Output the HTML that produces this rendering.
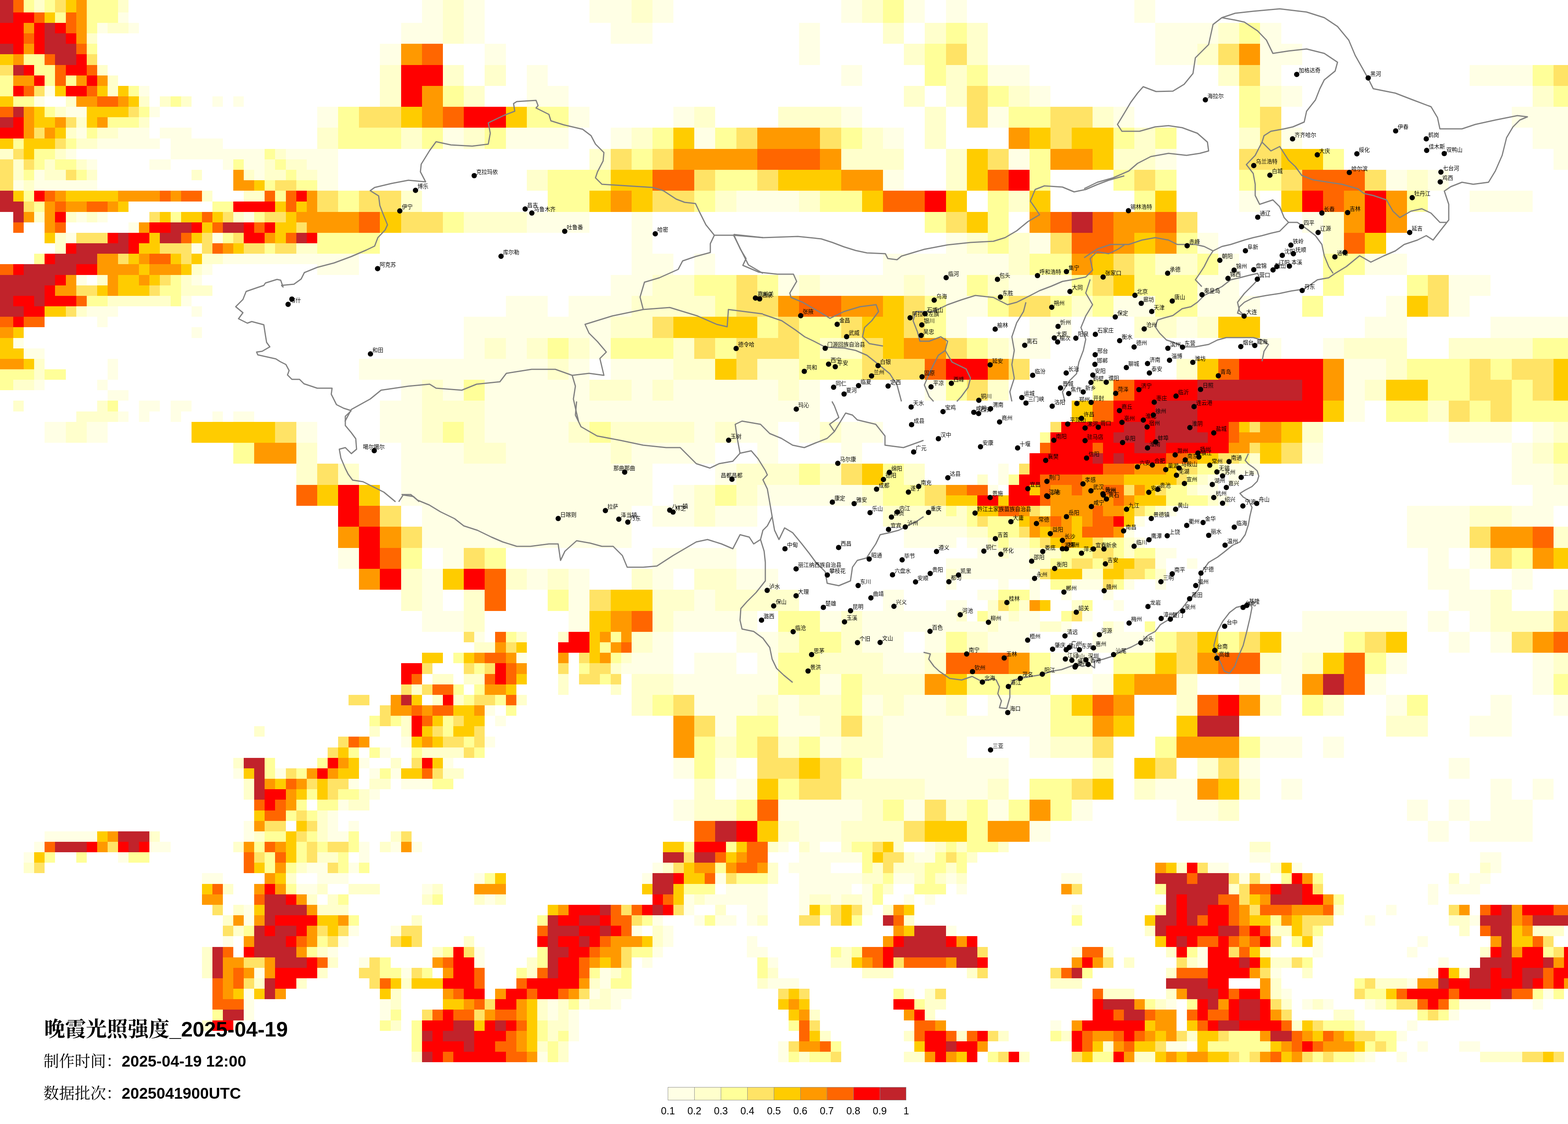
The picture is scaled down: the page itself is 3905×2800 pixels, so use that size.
<!DOCTYPE html>
<html><head><meta charset="utf-8"><title>晚霞光照强度_2025-04-19</title>
<style>
html,body{margin:0;padding:0;background:#fff}
body{width:3905px;height:2800px;position:relative;overflow:hidden}
svg{position:absolute;left:0;top:0}
.cl{font-family:"Noto Sans CJK SC",sans-serif;font-size:13.5px;fill:#000}
.cb{font-family:"Liberation Sans","Noto Sans CJK SC",sans-serif;font-size:25px;fill:#000}
.t1{position:absolute;left:110px;top:2530px;font-size:52px;line-height:60px;white-space:nowrap;color:#000}
.t1 .c{font-family:"Noto Serif CJK SC",serif;font-weight:700}
.t1 .d{font-family:"Liberation Sans",sans-serif;font-weight:700}
.t2{position:absolute;left:108px;font-size:39px;line-height:46px;white-space:nowrap;color:#000}
.t2 .c{font-family:"Noto Serif CJK SC",serif;font-weight:400}
.t2 .d{font-family:"Liberation Sans",sans-serif;font-weight:700}
</style></head><body>
<svg width="3905" height="2800" viewBox="0 0 3905 2800" xmlns="http://www.w3.org/2000/svg">
<g shape-rendering="crispEdges">
<path fill="#FFFFE5" d="M1051 0h52v31h-52zM1155 0h52v31h-52zM1468 0h105v31h-105zM1625 0h52v31h-52zM2095 0h52v31h-52zM2251 0h52v31h-52zM2356 0h52v31h-52zM2825 0h52v31h-52zM294 31h26v26h-26zM1051 31h52v26h-52zM1155 31h52v26h-52zM1468 31h105v26h-105zM1625 31h52v26h-52zM2095 31h52v26h-52zM2251 31h52v26h-52zM2356 31h52v26h-52zM2825 31h52v26h-52zM242 57h26v26h-26zM320 57h26v26h-26zM999 57h104v26h-104zM1155 57h52v26h-52zM1521 57h104v26h-104zM1990 57h52v26h-52zM2877 57h157v26h-157zM3138 57h53v26h-53zM999 83h104v26h-104zM1155 83h52v26h-52zM1521 83h104v26h-104zM1990 83h52v26h-52zM2877 83h157v26h-157zM3138 83h53v26h-53zM946 109h53v26h-53zM1207 109h53v26h-53zM1990 109h52v26h-52zM2877 109h105v26h-105zM3138 109h105v26h-105zM946 135h53v27h-53zM1207 135h53v27h-53zM1990 135h52v27h-52zM2877 135h105v27h-105zM3138 135h105v27h-105zM1312 162h52v26h-52zM2095 162h52v26h-52zM2460 162h104v26h-104zM3138 162h53v26h-53zM3660 162h157v26h-157zM1312 188h52v26h-52zM2095 188h52v26h-52zM2460 188h104v26h-104zM3138 188h53v26h-53zM3660 188h157v26h-157zM111 214h26v26h-26zM346 214h26v26h-26zM1312 214h104v26h-104zM2564 214h52v26h-52zM3191 214h52v26h-52zM85 240h26v26h-26zM529 240h26v26h-26zM581 240h26v26h-26zM1312 240h104v26h-104zM2564 240h52v26h-52zM3191 240h52v26h-52zM164 266h52v26h-52zM372 266h26v26h-26zM790 266h52v26h-52zM1416 266h52v26h-52zM1677 266h52v26h-52zM2095 266h52v26h-52zM2460 266h52v26h-52zM2773 266h52v26h-52zM3765 266h140v26h-140zM790 292h52v26h-52zM1416 292h52v26h-52zM1677 292h52v26h-52zM2095 292h52v26h-52zM2460 292h52v26h-52zM2773 292h52v26h-52zM3765 292h140v26h-140zM190 318h26v27h-26zM294 318h78v27h-78zM398 318h79v27h-79zM1103 318h52v27h-52zM1260 318h156v27h-156zM1521 318h52v27h-52zM1729 318h52v27h-52zM2199 318h52v27h-52zM3191 318h52v27h-52zM3817 318h88v27h-88zM242 345h156v26h-156zM425 345h130v26h-130zM1103 345h52v26h-52zM1260 345h156v26h-156zM1521 345h52v26h-52zM1729 345h52v26h-52zM2199 345h52v26h-52zM3191 345h52v26h-52zM3817 345h88v26h-88zM164 371h26v26h-26zM425 371h234v26h-234zM712 371h130v26h-130zM2512 371h52v26h-52zM2877 371h53v26h-53zM3869 371h36v26h-36zM216 397h26v26h-26zM372 397h53v26h-53zM555 397h26v26h-26zM607 397h52v26h-52zM764 397h78v26h-78zM2512 397h52v26h-52zM2877 397h53v26h-53zM3869 397h36v26h-36zM85 423h26v26h-26zM633 423h26v26h-26zM790 423h52v26h-52zM2199 423h52v26h-52zM3452 423h52v26h-52zM3556 423h52v26h-52zM33 449h26v26h-26zM85 449h157v26h-157zM790 449h52v26h-52zM2199 449h52v26h-52zM3452 449h52v26h-52zM3556 449h52v26h-52zM1834 475h156v27h-156zM3086 475h52v27h-52zM3660 475h157v27h-157zM1834 502h156v26h-156zM3086 502h52v26h-52zM3660 502h157v26h-157zM190 528h26v26h-26zM242 528h26v26h-26zM607 528h26v26h-26zM1312 528h156v26h-156zM1573 528h52v26h-52zM3243 528h52v26h-52zM320 554h26v26h-26zM1312 554h156v26h-156zM1573 554h52v26h-52zM3243 554h52v26h-52zM164 580h26v26h-26zM529 580h26v26h-26zM1573 580h52v26h-52zM2356 580h52v26h-52zM2564 580h52v26h-52zM2982 580h52v26h-52zM477 606h26v26h-26zM1573 606h52v26h-52zM2356 606h52v26h-52zM2564 606h52v26h-52zM2982 606h52v26h-52zM555 632h339v26h-339zM1573 632h104v26h-104zM1729 632h52v26h-52zM2199 632h313v26h-313zM3034 632h52v26h-52zM3399 632h105v26h-105zM503 658h26v27h-26zM790 658h104v27h-104zM1573 658h104v27h-104zM1729 658h52v27h-52zM2199 658h313v27h-313zM3034 658h52v27h-52zM3399 658h105v27h-105zM190 685h26v26h-26zM477 685h26v26h-26zM1521 685h104v26h-104zM1938 685h52v26h-52zM2042 685h209v26h-209zM2303 685h105v26h-105zM2512 685h157v26h-157zM2982 685h104v26h-104zM3608 685h104v26h-104zM1521 711h104v26h-104zM1938 711h52v26h-52zM2042 711h209v26h-209zM2303 711h105v26h-105zM2512 711h157v26h-157zM2982 711h104v26h-104zM3608 711h104v26h-104zM451 737h26v26h-26zM1260 737h104v26h-104zM1416 737h157v26h-157zM2356 737h104v26h-104zM2773 737h104v26h-104zM2982 737h156v26h-156zM3452 737h52v26h-52zM3608 737h52v26h-52zM216 763h78v26h-78zM477 763h26v26h-26zM1260 763h104v26h-104zM1416 763h157v26h-157zM2356 763h104v26h-104zM2773 763h104v26h-104zM2982 763h156v26h-156zM3452 763h52v26h-52zM3608 763h52v26h-52zM242 789h26v26h-26zM1155 789h366v26h-366zM2356 789h52v26h-52zM2564 789h105v26h-105zM2930 789h52v26h-52zM3399 789h105v26h-105zM3712 789h193v26h-193zM477 815h26v27h-26zM1155 815h366v27h-366zM2356 815h52v27h-52zM2564 815h105v27h-105zM2930 815h52v27h-52zM3399 815h105v27h-105zM3712 815h193v27h-193zM33 842h26v26h-26zM1155 842h52v26h-52zM1260 842h52v26h-52zM1468 842h53v26h-53zM2512 842h104v26h-104zM3138 842h53v26h-53zM3295 842h52v26h-52zM59 868h52v26h-52zM1155 868h52v26h-52zM1260 868h52v26h-52zM1468 868h53v26h-53zM2512 868h104v26h-104zM3138 868h53v26h-53zM3295 868h52v26h-52zM268 894h26v26h-26zM894 894h470v26h-470zM1416 894h52v26h-52zM1521 894h156v26h-156zM3347 894h105v26h-105zM268 920h26v26h-26zM894 920h470v26h-470zM1416 920h52v26h-52zM1521 920h156v26h-156zM3347 920h105v26h-105zM85 946h26v26h-26zM242 946h26v26h-26zM999 946h52v26h-52zM1103 946h52v26h-52zM1207 946h261v26h-261zM1573 946h52v26h-52zM1677 946h261v26h-261zM1990 946h52v26h-52zM2303 946h53v26h-53zM3347 946h52v26h-52zM268 972h52v26h-52zM999 972h52v26h-52zM1103 972h52v26h-52zM1207 972h261v26h-261zM1573 972h52v26h-52zM1677 972h261v26h-261zM1990 972h52v26h-52zM2303 972h53v26h-53zM3347 972h52v26h-52zM346 998h52v27h-52zM425 998h52v27h-52zM946 998h105v27h-105zM1207 998h835v27h-835zM3347 998h52v27h-52zM294 1025h26v26h-26zM346 1025h26v26h-26zM425 1025h26v26h-26zM529 1025h26v26h-26zM581 1025h52v26h-52zM946 1025h105v26h-105zM1207 1025h835v26h-835zM3347 1025h52v26h-52zM111 1051h53v26h-53zM216 1051h52v26h-52zM738 1051h52v26h-52zM946 1051h105v26h-105zM1207 1051h209v26h-209zM1729 1051h52v26h-52zM1834 1051h104v26h-104zM1990 1051h52v26h-52zM2095 1051h104v26h-104zM3608 1051h157v26h-157zM3817 1051h52v26h-52zM111 1077h53v26h-53zM216 1077h52v26h-52zM738 1077h52v26h-52zM946 1077h105v26h-105zM1207 1077h209v26h-209zM1729 1077h52v26h-52zM1834 1077h104v26h-104zM1990 1077h52v26h-52zM2095 1077h104v26h-104zM3608 1077h157v26h-157zM3817 1077h52v26h-52zM999 1103h156v26h-156zM1260 1103h261v26h-261zM1573 1103h208v26h-208zM1886 1103h52v26h-52zM2095 1103h52v26h-52zM3243 1103h52v26h-52zM3765 1103h52v26h-52zM999 1129h156v26h-156zM1260 1129h261v26h-261zM1573 1129h208v26h-208zM1886 1129h52v26h-52zM2095 1129h52v26h-52zM3243 1129h52v26h-52zM3765 1129h52v26h-52zM999 1155h626v27h-626zM1781 1155h53v27h-53zM2486 1155h26v27h-26zM3060 1155h78v27h-78zM3765 1155h104v27h-104zM999 1182h626v26h-626zM1781 1182h53v26h-53zM2486 1182h26v26h-26zM3008 1182h26v26h-26zM3060 1182h26v26h-26zM3765 1182h104v26h-104zM999 1208h626v26h-626zM1677 1208h52v26h-52zM1886 1208h261v26h-261zM2460 1208h26v26h-26zM2982 1208h52v26h-52zM3817 1208h88v26h-88zM999 1234h626v26h-626zM1677 1234h52v26h-52zM1886 1234h261v26h-261zM3034 1234h26v26h-26zM3817 1234h88v26h-88zM1051 1260h522v26h-522zM1625 1260h104v26h-104zM1781 1260h105v26h-105zM2904 1260h26v26h-26zM3504 1260h156v26h-156zM3765 1260h104v26h-104zM1051 1286h522v26h-522zM1625 1286h104v26h-104zM1781 1286h105v26h-105zM2825 1286h26v26h-26zM3504 1286h156v26h-156zM3765 1286h104v26h-104zM1051 1312h522v27h-522zM2251 1312h157v27h-157zM2799 1312h26v27h-26zM3504 1312h156v27h-156zM1051 1339h522v26h-522zM2251 1339h131v26h-131zM2408 1339h52v26h-52zM2825 1339h26v26h-26zM3504 1339h156v26h-156zM842 1365h52v26h-52zM1103 1365h52v26h-52zM1625 1365h209v26h-209zM2434 1365h52v26h-52zM2512 1365h52v26h-52zM2877 1365h53v26h-53zM3556 1365h52v26h-52zM3660 1365h52v26h-52zM842 1391h52v26h-52zM1103 1391h52v26h-52zM1625 1391h209v26h-209zM2356 1391h208v26h-208zM2877 1391h27v26h-27zM2956 1391h26v26h-26zM3556 1391h52v26h-52zM3660 1391h52v26h-52zM1051 1417h52v26h-52zM1312 1417h52v26h-52zM1416 1417h52v26h-52zM1625 1417h52v26h-52zM1834 1417h104v26h-104zM2382 1417h208v26h-208zM3556 1417h104v26h-104zM3765 1417h52v26h-52zM1051 1443h52v26h-52zM1312 1443h52v26h-52zM1416 1443h52v26h-52zM1625 1443h52v26h-52zM1834 1443h104v26h-104zM2356 1443h26v26h-26zM2486 1443h26v26h-26zM2564 1443h26v26h-26zM2669 1443h78v26h-78zM2799 1443h26v26h-26zM2877 1443h27v26h-27zM3556 1443h104v26h-104zM3765 1443h52v26h-52zM1051 1469h52v26h-52zM1416 1469h52v26h-52zM1729 1469h52v26h-52zM2199 1469h52v26h-52zM2434 1469h52v26h-52zM2564 1469h26v26h-26zM2643 1469h26v26h-26zM2747 1469h26v26h-26zM3608 1469h104v26h-104zM1051 1495h52v27h-52zM1416 1495h52v27h-52zM1729 1495h52v27h-52zM2199 1495h52v27h-52zM2356 1495h52v27h-52zM2773 1495h26v27h-26zM3608 1495h104v27h-104zM1051 1522h104v26h-104zM1416 1522h52v26h-52zM1677 1522h209v26h-209zM2042 1522h53v26h-53zM2147 1522h235v26h-235zM2486 1522h26v26h-26zM2538 1522h52v26h-52zM2695 1522h26v26h-26zM3243 1522h261v26h-261zM3556 1522h52v26h-52zM3660 1522h52v26h-52zM1051 1548h104v26h-104zM1416 1548h52v26h-52zM1677 1548h209v26h-209zM2042 1548h53v26h-53zM2147 1548h313v26h-313zM2486 1548h104v26h-104zM2643 1548h26v26h-26zM2773 1548h26v26h-26zM3243 1548h261v26h-261zM3556 1548h52v26h-52zM3660 1548h52v26h-52zM1181 1574h26v26h-26zM1625 1574h52v26h-52zM1834 1574h104v26h-104zM2147 1574h104v26h-104zM2303 1574h53v26h-53zM2460 1574h104v26h-104zM2721 1574h156v26h-156zM3191 1574h156v26h-156zM3608 1574h52v26h-52zM3712 1574h53v26h-53zM1625 1600h52v26h-52zM1834 1600h104v26h-104zM2147 1600h104v26h-104zM2303 1600h53v26h-53zM2460 1600h104v26h-104zM2721 1600h156v26h-156zM3191 1600h156v26h-156zM3608 1600h52v26h-52zM3712 1600h53v26h-53zM1286 1626h26v26h-26zM1573 1626h104v26h-104zM1729 1626h105v26h-105zM1886 1626h52v26h-52zM2199 1626h104v26h-104zM2616 1626h105v26h-105zM3191 1626h52v26h-52zM3452 1626h52v26h-52zM3817 1626h52v26h-52zM1547 1652h130v27h-130zM1729 1652h105v27h-105zM1886 1652h52v27h-52zM2199 1652h104v27h-104zM2616 1652h105v27h-105zM3191 1652h52v27h-52zM3452 1652h52v27h-52zM3817 1652h52v27h-52zM1677 1679h261v26h-261zM2042 1679h53v26h-53zM2721 1679h52v26h-52zM3086 1679h52v26h-52zM3191 1679h52v26h-52zM3399 1679h53v26h-53zM3817 1679h52v26h-52zM1677 1705h261v26h-261zM2042 1705h53v26h-53zM2721 1705h52v26h-52zM3086 1705h52v26h-52zM3191 1705h52v26h-52zM3399 1705h53v26h-53zM3817 1705h52v26h-52zM1729 1731h157v26h-157zM1938 1731h52v26h-52zM2147 1731h52v26h-52zM2251 1731h105v26h-105zM2460 1731h156v26h-156zM3452 1731h52v26h-52zM3712 1731h53v26h-53zM3869 1731h36v26h-36zM1207 1757h26v26h-26zM1729 1757h157v26h-157zM1938 1757h52v26h-52zM2147 1757h52v26h-52zM2251 1757h105v26h-105zM2460 1757h156v26h-156zM3452 1757h52v26h-52zM3712 1757h53v26h-53zM3869 1757h36v26h-36zM1233 1783h27v26h-27zM1781 1783h53v26h-53zM1938 1783h104v26h-104zM2199 1783h417v26h-417zM3660 1783h105v26h-105zM1781 1809h53v26h-53zM1938 1809h104v26h-104zM2199 1809h417v26h-417zM3660 1809h105v26h-105zM999 1835h26v27h-26zM1207 1835h26v27h-26zM2042 1835h53v27h-53zM2199 1835h209v27h-209zM2564 1835h52v27h-52zM3138 1835h105v27h-105zM3295 1835h52v27h-52zM946 1862h27v26h-27zM2042 1862h53v26h-53zM2199 1862h209v26h-209zM2564 1862h52v26h-52zM3138 1862h105v26h-105zM3295 1862h52v26h-52zM894 1888h26v26h-26zM1103 1888h26v26h-26zM1677 1888h52v26h-52zM1781 1888h53v26h-53zM2147 1888h365v26h-365zM3086 1888h52v26h-52zM3608 1888h52v26h-52zM581 1914h26v26h-26zM685 1914h27v26h-27zM920 1914h26v26h-26zM973 1914h26v26h-26zM1677 1914h52v26h-52zM1781 1914h53v26h-53zM2147 1914h365v26h-365zM3086 1914h52v26h-52zM3608 1914h52v26h-52zM868 1940h26v26h-26zM999 1940h78v26h-78zM1834 1940h52v26h-52zM2303 1940h157v26h-157zM2877 1940h105v26h-105zM3191 1940h52v26h-52zM3712 1940h53v26h-53zM3817 1940h52v26h-52zM920 1966h26v26h-26zM1834 1966h52v26h-52zM2303 1966h157v26h-157zM2877 1966h105v26h-105zM3191 1966h52v26h-52zM3712 1966h53v26h-53zM3817 1966h52v26h-52zM842 1992h26v27h-26zM1677 1992h52v27h-52zM1938 1992h209v27h-209zM2251 1992h52v27h-52zM2460 1992h52v27h-52zM2669 1992h52v27h-52zM2930 1992h104v27h-104zM3504 1992h52v27h-52zM3608 1992h52v27h-52zM3712 1992h105v27h-105zM816 2019h26v26h-26zM1677 2019h52v26h-52zM1938 2019h209v26h-209zM2251 2019h52v26h-52zM2460 2019h52v26h-52zM2669 2019h52v26h-52zM2930 2019h104v26h-104zM3504 2019h52v26h-52zM3608 2019h52v26h-52zM3712 2019h105v26h-105zM607 2045h26v26h-26zM816 2045h26v26h-26zM868 2045h26v26h-26zM1990 2045h105v26h-105zM2564 2045h52v26h-52zM3556 2045h52v26h-52zM3660 2045h157v26h-157zM111 2071h131v26h-131zM607 2071h26v26h-26zM816 2071h52v26h-52zM1990 2071h105v26h-105zM2564 2071h52v26h-52zM3556 2071h52v26h-52zM3660 2071h157v26h-157zM85 2097h26v26h-26zM372 2097h53v26h-53zM894 2097h26v26h-26zM973 2097h26v26h-26zM1025 2097h26v26h-26zM1938 2097h26v26h-26zM2016 2097h26v26h-26zM2303 2097h26v26h-26zM59 2123h26v26h-26zM294 2123h26v26h-26zM894 2123h26v26h-26zM1990 2123h157v26h-157zM2277 2123h52v26h-52zM3112 2123h52v26h-52zM3686 2123h53v26h-53zM764 2149h52v26h-52zM868 2149h26v26h-26zM1625 2149h26v26h-26zM1964 2149h105v26h-105zM3008 2149h52v26h-52zM3217 2149h26v26h-26zM3712 2149h27v26h-27zM503 2175h52v27h-52zM790 2175h78v27h-78zM1181 2175h26v27h-26zM1599 2175h26v27h-26zM1781 2175h27v27h-27zM1990 2175h157v27h-157zM2225 2175h52v27h-52zM2356 2175h26v27h-26zM2643 2175h52v27h-52zM3086 2175h26v27h-26zM3138 2175h26v27h-26zM3660 2175h52v27h-52zM738 2202h52v26h-52zM1051 2202h26v26h-26zM1808 2202h104v26h-104zM1990 2202h131v26h-131zM2147 2202h26v26h-26zM2382 2202h26v26h-26zM3556 2202h26v26h-26zM3608 2202h78v26h-78zM1207 2228h26v26h-26zM1703 2228h26v26h-26zM1755 2228h157v26h-157zM1990 2228h26v26h-26zM2069 2228h26v26h-26zM2147 2228h26v26h-26zM2251 2228h26v26h-26zM2303 2228h26v26h-26zM3556 2228h26v26h-26zM607 2254h26v26h-26zM1703 2254h26v26h-26zM1860 2254h52v26h-52zM1990 2254h26v26h-26zM2147 2254h26v26h-26zM2669 2254h26v26h-26zM3452 2254h26v26h-26zM607 2280h26v26h-26zM1625 2280h26v26h-26zM1729 2280h26v26h-26zM1781 2280h53v26h-53zM1860 2280h26v26h-26zM3399 2280h26v26h-26zM3660 2280h26v26h-26zM868 2306h26v26h-26zM973 2306h26v26h-26zM1573 2306h26v26h-26zM1651 2306h26v26h-26zM2356 2306h26v26h-26zM555 2332h26v27h-26zM842 2332h26v27h-26zM1651 2332h26v27h-26zM1860 2332h26v27h-26zM3269 2332h26v27h-26zM3530 2332h26v27h-26zM816 2359h26v26h-26zM1181 2359h26v26h-26zM1625 2359h26v26h-26zM1860 2359h52v26h-52zM2669 2359h26v26h-26zM2982 2359h26v26h-26zM3269 2359h26v26h-26zM3504 2359h26v26h-26zM894 2385h26v26h-26zM1181 2385h26v26h-26zM1599 2385h26v26h-26zM1912 2385h26v26h-26zM2982 2385h26v26h-26zM3582 2385h26v26h-26zM633 2411h26v26h-26zM999 2411h26v26h-26zM1494 2411h27v26h-27zM3164 2411h27v26h-27zM3556 2411h26v26h-26zM1494 2437h27v26h-27zM1912 2437h78v26h-78zM3504 2437h26v26h-26zM607 2463h26v26h-26zM1468 2463h26v26h-26zM1521 2463h52v26h-52zM2251 2463h26v26h-26zM3191 2463h26v26h-26zM3843 2463h26v26h-26zM607 2489h26v26h-26zM946 2489h27v26h-27zM1364 2489h26v26h-26zM1442 2489h26v26h-26zM1521 2489h26v26h-26zM2904 2489h26v26h-26zM3243 2489h26v26h-26zM3295 2489h26v26h-26zM3399 2489h26v26h-26zM3634 2489h78v26h-78zM3817 2489h26v26h-26zM607 2515h26v27h-26zM946 2515h27v27h-27zM1364 2515h26v27h-26zM1416 2515h26v27h-26zM3608 2515h26v27h-26zM581 2542h26v26h-26zM1416 2542h26v26h-26zM2616 2542h27v26h-27zM3504 2542h26v26h-26zM1416 2568h26v26h-26zM3478 2568h26v26h-26zM1938 2594h26v26h-26zM2904 2594h52v26h-52zM3530 2594h26v26h-26zM3634 2594h52v26h-52zM1338 2620h26v26h-26zM1938 2620h26v26h-26zM3399 2620h26v26h-26zM3478 2620h26v26h-26z"/>
<path fill="#FFFFCC" d="M85 0h26v31h-26zM294 0h26v31h-26zM1103 0h52v31h-52zM1573 0h52v31h-52zM2147 0h52v31h-52zM1103 31h52v26h-52zM1573 31h52v26h-52zM2147 31h52v26h-52zM268 57h52v26h-52zM1103 57h52v26h-52zM2199 57h52v26h-52zM2303 57h53v26h-53zM2408 57h52v26h-52zM3034 57h52v26h-52zM216 83h26v26h-26zM1103 83h52v26h-52zM2199 83h52v26h-52zM2303 83h53v26h-53zM2408 83h52v26h-52zM3034 83h52v26h-52zM2251 109h52v26h-52zM2408 109h52v26h-52zM2982 109h52v26h-52zM2251 135h52v27h-52zM2408 135h52v27h-52zM2982 135h52v27h-52zM242 162h26v26h-26zM946 162h53v26h-53zM1103 162h52v26h-52zM1207 162h53v26h-53zM2356 162h52v26h-52zM3034 162h52v26h-52zM268 188h26v26h-26zM946 188h53v26h-53zM1103 188h52v26h-52zM1207 188h53v26h-53zM2356 188h52v26h-52zM3034 188h52v26h-52zM268 214h26v26h-26zM946 214h53v26h-53zM1155 214h52v26h-52zM2251 214h52v26h-52zM2356 214h52v26h-52zM2512 214h52v26h-52zM3138 214h53v26h-53zM3817 214h52v26h-52zM164 240h26v26h-26zM346 240h26v26h-26zM398 240h27v26h-27zM451 240h26v26h-26zM946 240h53v26h-53zM1155 240h52v26h-52zM2251 240h52v26h-52zM2356 240h52v26h-52zM2512 240h52v26h-52zM3138 240h53v26h-53zM3817 240h52v26h-52zM137 266h27v26h-27zM1729 266h52v26h-52zM1938 266h157v26h-157zM2303 266h53v26h-53zM2721 266h52v26h-52zM190 292h26v26h-26zM346 292h26v26h-26zM1729 292h52v26h-52zM1938 292h157v26h-157zM2303 292h53v26h-53zM2721 292h52v26h-52zM164 318h26v27h-26zM242 318h52v27h-52zM790 318h52v27h-52zM999 318h52v27h-52zM1155 318h52v27h-52zM1573 318h52v27h-52zM2147 318h52v27h-52zM2303 318h53v27h-53zM2825 318h52v27h-52zM3086 318h52v27h-52zM190 345h52v26h-52zM790 345h52v26h-52zM999 345h52v26h-52zM1155 345h52v26h-52zM1573 345h52v26h-52zM2147 345h52v26h-52zM2303 345h53v26h-53zM2825 345h52v26h-52zM3086 345h52v26h-52zM0 371h33v26h-33zM137 371h27v26h-27zM685 371h27v26h-27zM1468 371h53v26h-53zM2095 371h156v26h-156zM2356 371h52v26h-52zM2773 371h104v26h-104zM33 397h26v26h-26zM111 397h26v26h-26zM190 397h26v26h-26zM659 397h26v26h-26zM712 397h52v26h-52zM1468 397h53v26h-53zM2095 397h156v26h-156zM2356 397h52v26h-52zM2773 397h104v26h-104zM33 423h26v26h-26zM111 423h53v26h-53zM216 423h26v26h-26zM477 423h26v26h-26zM607 423h26v26h-26zM659 423h53v26h-53zM738 423h52v26h-52zM1312 423h52v26h-52zM2356 423h52v26h-52zM3504 423h52v26h-52zM59 449h26v26h-26zM1312 449h52v26h-52zM2356 449h52v26h-52zM3504 449h52v26h-52zM503 475h26v27h-26zM607 475h52v27h-52zM999 475h52v27h-52zM1781 475h53v27h-53zM1990 475h52v27h-52zM2512 475h52v27h-52zM999 502h52v26h-52zM1781 502h53v26h-53zM1990 502h52v26h-52zM2512 502h52v26h-52zM85 528h26v26h-26zM164 528h26v26h-26zM216 528h26v26h-26zM581 528h26v26h-26zM1155 528h157v26h-157zM3295 528h52v26h-52zM1155 554h157v26h-157zM3295 554h52v26h-52zM137 580h27v26h-27zM2408 580h52v26h-52zM2512 580h52v26h-52zM3295 580h52v26h-52zM137 606h27v26h-27zM738 606h52v26h-52zM2408 606h52v26h-52zM2512 606h52v26h-52zM3295 606h52v26h-52zM503 632h52v26h-52zM2512 632h52v26h-52zM2877 632h105v26h-105zM477 658h26v27h-26zM2512 658h52v27h-52zM2877 658h105v27h-105zM242 685h26v26h-26zM451 685h26v26h-26zM1625 685h104v26h-104zM1990 685h52v26h-52zM2251 685h52v26h-52zM2460 685h52v26h-52zM451 711h78v26h-78zM1625 711h104v26h-104zM1990 711h52v26h-52zM2251 711h52v26h-52zM2460 711h52v26h-52zM268 737h157v26h-157zM1573 737h208v26h-208zM2669 737h52v26h-52zM190 763h26v26h-26zM1573 763h208v26h-208zM2669 763h52v26h-52zM1521 789h104v26h-104zM2825 789h105v26h-105zM2982 789h52v26h-52zM1521 815h104v27h-104zM2825 815h105v27h-105zM2982 815h52v27h-52zM1207 842h53v26h-53zM1312 842h52v26h-52zM1416 842h52v26h-52zM1677 842h52v26h-52zM2042 842h105v26h-105zM2460 842h52v26h-52zM3347 842h157v26h-157zM3608 842h209v26h-209zM1207 868h53v26h-53zM1312 868h52v26h-52zM1416 868h52v26h-52zM1677 868h52v26h-52zM2042 868h105v26h-105zM2460 868h52v26h-52zM3347 868h157v26h-157zM3608 868h209v26h-209zM85 894h26v26h-26zM1364 894h52v26h-52zM1677 894h104v26h-104zM1886 894h104v26h-104zM2930 894h52v26h-52zM3452 894h52v26h-52zM85 920h26v26h-26zM1364 920h52v26h-52zM1677 920h104v26h-104zM1886 920h104v26h-104zM2930 920h52v26h-52zM3452 920h52v26h-52zM33 946h52v26h-52zM1051 946h52v26h-52zM1468 946h105v26h-105zM1625 946h52v26h-52zM1938 946h52v26h-52zM2460 946h52v26h-52zM3399 946h53v26h-53zM1051 972h52v26h-52zM1468 972h105v26h-105zM1625 972h52v26h-52zM1938 972h52v26h-52zM2460 972h52v26h-52zM3399 972h53v26h-53zM33 998h26v27h-26zM242 998h26v27h-26zM1051 998h156v27h-156zM3556 998h52v27h-52zM190 1025h104v26h-104zM1051 1025h156v26h-156zM3556 1025h52v26h-52zM164 1051h52v26h-52zM1051 1051h52v26h-52zM1155 1051h52v26h-52zM1416 1051h52v26h-52zM1521 1051h208v26h-208zM1781 1051h53v26h-53zM2042 1051h53v26h-53zM3243 1051h52v26h-52zM3869 1051h36v26h-36zM164 1077h52v26h-52zM1051 1077h52v26h-52zM1155 1077h52v26h-52zM1416 1077h52v26h-52zM1521 1077h208v26h-208zM1781 1077h53v26h-53zM2042 1077h53v26h-53zM3243 1077h52v26h-52zM3869 1077h36v26h-36zM738 1103h52v26h-52zM1155 1103h105v26h-105zM1521 1103h52v26h-52zM3817 1103h52v26h-52zM738 1129h52v26h-52zM1155 1129h105v26h-105zM1521 1129h52v26h-52zM3112 1129h26v26h-26zM3817 1129h52v26h-52zM738 1155h52v27h-52zM842 1155h52v27h-52zM1834 1155h156v27h-156zM2042 1155h53v27h-53zM2251 1155h52v27h-52zM3034 1155h26v27h-26zM3869 1155h36v27h-36zM738 1182h52v26h-52zM842 1182h52v26h-52zM1834 1182h156v26h-156zM2042 1182h53v26h-53zM2251 1182h52v26h-52zM2434 1182h26v26h-26zM2982 1182h26v26h-26zM3869 1182h36v26h-36zM1729 1208h52v26h-52zM1834 1208h52v26h-52zM2147 1208h52v26h-52zM2956 1208h26v26h-26zM1729 1234h52v26h-52zM1834 1234h52v26h-52zM2147 1234h52v26h-52zM3008 1234h26v26h-26zM1729 1260h52v26h-52zM2199 1260h157v26h-157zM2382 1260h26v26h-26zM2877 1260h27v26h-27zM3660 1260h105v26h-105zM1729 1286h52v26h-52zM2199 1286h209v26h-209zM3660 1286h105v26h-105zM2408 1312h52v27h-52zM3869 1312h36v27h-36zM2460 1339h26v26h-26zM2512 1339h52v26h-52zM2799 1339h26v26h-26zM3869 1339h36v26h-36zM2486 1365h26v26h-26zM2564 1365h79v26h-79zM2799 1365h26v26h-26zM2564 1391h52v26h-52zM999 1417h52v26h-52zM1260 1417h52v26h-52zM1364 1417h52v26h-52zM1573 1417h52v26h-52zM1729 1417h105v26h-105zM2356 1417h26v26h-26zM2695 1417h52v26h-52zM2877 1417h27v26h-27zM999 1443h52v26h-52zM1260 1443h52v26h-52zM1364 1443h52v26h-52zM1573 1443h52v26h-52zM1729 1443h105v26h-105zM999 1469h52v26h-52zM1155 1469h52v26h-52zM1625 1469h104v26h-104zM1781 1469h209v26h-209zM3712 1469h53v26h-53zM3869 1469h36v26h-36zM999 1495h52v27h-52zM1155 1495h52v27h-52zM1625 1495h104v27h-104zM1781 1495h209v27h-209zM2460 1495h26v27h-26zM2538 1495h26v27h-26zM2669 1495h26v27h-26zM3712 1495h53v27h-53zM3869 1495h36v27h-36zM1155 1522h52v26h-52zM1625 1522h52v26h-52zM2095 1522h52v26h-52zM2382 1522h26v26h-26zM2460 1522h26v26h-26zM2512 1522h26v26h-26zM3712 1522h157v26h-157zM1155 1548h52v26h-52zM1625 1548h52v26h-52zM2095 1548h52v26h-52zM2460 1548h26v26h-26zM2590 1548h53v26h-53zM2747 1548h26v26h-26zM3712 1548h157v26h-157zM1286 1574h26v26h-26zM1390 1574h26v26h-26zM1573 1574h52v26h-52zM1938 1574h52v26h-52zM2095 1574h52v26h-52zM2408 1574h52v26h-52zM1181 1600h52v26h-52zM1573 1600h52v26h-52zM1938 1600h52v26h-52zM2095 1600h52v26h-52zM2408 1600h52v26h-52zM1547 1626h26v26h-26zM2042 1626h157v26h-157zM2303 1626h53v26h-53zM3138 1626h53v26h-53zM3243 1626h52v26h-52zM3869 1626h36v26h-36zM1521 1652h26v27h-26zM2042 1652h157v27h-157zM2303 1652h53v27h-53zM3138 1652h53v27h-53zM3243 1652h52v27h-52zM3869 1652h36v27h-36zM1077 1679h52v26h-52zM1155 1679h52v26h-52zM1390 1679h26v26h-26zM1573 1679h104v26h-104zM2147 1679h156v26h-156zM2930 1679h52v26h-52zM1025 1705h26v26h-26zM1390 1705h26v26h-26zM1521 1705h26v26h-26zM1573 1705h104v26h-104zM2147 1705h156v26h-156zM2930 1705h52v26h-52zM1077 1731h26v26h-26zM1129 1731h26v26h-26zM1286 1731h26v26h-26zM1573 1731h52v26h-52zM1886 1731h52v26h-52zM1990 1731h105v26h-105zM2199 1731h52v26h-52zM2356 1731h52v26h-52zM2930 1731h52v26h-52zM3138 1731h53v26h-53zM3295 1731h52v26h-52zM1573 1757h52v26h-52zM1886 1757h52v26h-52zM1990 1757h105v26h-105zM2199 1757h52v26h-52zM2356 1757h52v26h-52zM2930 1757h52v26h-52zM3138 1757h53v26h-53zM3295 1757h52v26h-52zM999 1783h26v26h-26zM2042 1783h53v26h-53zM2147 1783h52v26h-52zM3452 1783h104v26h-104zM633 1809h26v26h-26zM920 1809h26v26h-26zM999 1809h26v26h-26zM2042 1809h53v26h-53zM2147 1809h52v26h-52zM3452 1809h104v26h-104zM1781 1835h53v27h-53zM1938 1835h52v27h-52zM2095 1835h104v27h-104zM2616 1835h105v27h-105zM1051 1862h104v26h-104zM1781 1862h53v26h-53zM1938 1862h52v26h-52zM2095 1862h104v26h-104zM2616 1862h105v26h-105zM581 1888h26v26h-26zM973 1888h26v26h-26zM2721 1888h52v26h-52zM2982 1888h52v26h-52zM1103 1914h52v26h-52zM2721 1914h52v26h-52zM2982 1914h52v26h-52zM607 1940h26v26h-26zM920 1940h53v26h-53zM1729 1940h52v26h-52zM2095 1940h208v26h-208zM2460 1940h52v26h-52zM2825 1940h52v26h-52zM3086 1940h52v26h-52zM607 1966h26v26h-26zM894 1966h26v26h-26zM1729 1966h52v26h-52zM2095 1966h208v26h-208zM2460 1966h52v26h-52zM2825 1966h52v26h-52zM3086 1966h52v26h-52zM868 1992h52v27h-52zM1729 1992h105v27h-105zM2147 1992h52v27h-52zM2356 1992h52v27h-52zM3034 1992h52v27h-52zM790 2019h26v26h-26zM1729 2019h105v26h-105zM2147 2019h52v26h-52zM2356 2019h52v26h-52zM3034 2019h52v26h-52zM790 2045h26v26h-26zM1938 2045h52v26h-52zM2095 2045h156v26h-156zM372 2071h26v26h-26zM633 2071h26v26h-26zM790 2071h26v26h-26zM973 2071h26v26h-26zM1938 2071h52v26h-52zM2095 2071h156v26h-156zM581 2097h26v26h-26zM946 2097h27v26h-27zM1912 2097h26v26h-26zM1990 2097h26v26h-26zM2095 2097h26v26h-26zM2225 2097h26v26h-26zM2329 2097h27v26h-27zM2382 2097h26v26h-26zM2486 2097h26v26h-26zM3112 2097h52v26h-52zM790 2123h52v26h-52zM2251 2123h26v26h-26zM2408 2123h26v26h-26zM59 2149h26v26h-26zM738 2149h26v26h-26zM1651 2149h26v26h-26zM1912 2149h26v26h-26zM2173 2149h26v26h-26zM2225 2149h78v26h-78zM2356 2149h26v26h-26zM2930 2149h26v26h-26zM3164 2149h27v26h-27zM3686 2149h26v26h-26zM712 2175h26v27h-26zM1912 2175h26v27h-26zM2147 2175h52v27h-52zM2277 2175h26v27h-26zM2329 2175h27v27h-27zM2382 2175h26v27h-26zM3608 2175h26v27h-26zM555 2202h26v26h-26zM790 2202h26v26h-26zM868 2202h78v26h-78zM1077 2202h26v26h-26zM2199 2202h26v26h-26zM3060 2202h26v26h-26zM764 2228h26v26h-26zM816 2228h26v26h-26zM1051 2228h26v26h-26zM1181 2228h26v26h-26zM1233 2228h27v26h-27zM1729 2228h26v26h-26zM2016 2228h53v26h-53zM2095 2228h52v26h-52zM581 2254h26v26h-26zM790 2254h78v26h-78zM1781 2254h27v26h-27zM2199 2254h26v26h-26zM3321 2254h26v26h-26zM555 2280h26v26h-26zM1025 2280h26v26h-26zM1886 2280h26v26h-26zM2251 2280h26v26h-26zM3608 2280h52v26h-52zM581 2306h26v26h-26zM1625 2306h26v26h-26zM2851 2306h26v26h-26zM3164 2306h53v26h-53zM3634 2306h26v26h-26zM3817 2306h78v26h-78zM1155 2332h26v27h-26zM1625 2332h26v27h-26zM503 2359h26v26h-26zM790 2359h26v26h-26zM1077 2359h26v26h-26zM2095 2359h26v26h-26zM2747 2359h26v26h-26zM2904 2359h26v26h-26zM3138 2359h26v26h-26zM3686 2359h26v26h-26zM503 2385h26v26h-26zM816 2385h26v26h-26zM1312 2385h26v26h-26zM2069 2385h52v26h-52zM2799 2385h26v26h-26zM2956 2385h26v26h-26zM3164 2385h53v26h-53zM503 2411h26v26h-26zM790 2411h26v26h-26zM1312 2411h26v26h-26zM1521 2411h26v26h-26zM1912 2411h26v26h-26zM2147 2411h78v26h-78zM2408 2411h26v26h-26zM2904 2411h26v26h-26zM3243 2411h26v26h-26zM3634 2411h26v26h-26zM633 2437h26v26h-26zM738 2437h26v26h-26zM999 2437h26v26h-26zM1468 2437h26v26h-26zM1886 2437h26v26h-26zM2616 2437h79v26h-79zM3164 2437h27v26h-27zM3425 2437h79v26h-79zM973 2463h26v26h-26zM1494 2463h27v26h-27zM2303 2463h26v26h-26zM2747 2463h78v26h-78zM2904 2463h26v26h-26zM3164 2463h27v26h-27zM973 2489h26v26h-26zM1338 2489h26v26h-26zM1390 2489h26v26h-26zM1468 2489h53v26h-53zM2303 2489h53v26h-53zM2877 2489h27v26h-27zM3191 2489h26v26h-26zM3269 2489h26v26h-26zM3425 2489h27v26h-27zM1338 2515h26v27h-26zM1390 2515h26v27h-26zM2016 2515h26v27h-26zM2303 2515h26v27h-26zM3321 2515h52v27h-52zM503 2542h26v26h-26zM973 2542h26v26h-26zM1364 2542h52v26h-52zM3217 2542h26v26h-26zM3373 2542h26v26h-26zM1364 2568h26v26h-26zM2042 2568h27v26h-27zM2251 2568h26v26h-26zM2382 2568h26v26h-26zM2486 2568h26v26h-26zM2643 2568h26v26h-26zM2956 2568h26v26h-26zM1338 2594h26v26h-26zM1390 2594h26v26h-26zM2747 2594h26v26h-26zM1025 2620h26v26h-26zM1390 2620h26v26h-26zM1990 2620h26v26h-26zM2251 2620h52v26h-52zM2538 2620h26v26h-26zM2825 2620h52v26h-52zM3373 2620h26v26h-26zM3686 2620h105v26h-105z"/>
<path fill="#FFFF99" d="M59 0h26v31h-26zM111 0h26v31h-26zM216 0h78v31h-78zM2199 0h52v31h-52zM137 31h27v26h-27zM216 31h78v26h-78zM2199 31h52v26h-52zM216 57h26v26h-26zM2356 57h52v26h-52zM3086 57h52v26h-52zM2356 83h52v26h-52zM3086 83h52v26h-52zM216 109h26v26h-26zM2303 109h53v26h-53zM59 135h52v27h-52zM2303 135h53v27h-53zM85 162h52v26h-52zM2303 162h53v26h-53zM2408 162h52v26h-52zM3817 162h52v26h-52zM0 188h33v26h-33zM111 188h26v26h-26zM164 188h26v26h-26zM2303 188h53v26h-53zM2408 188h52v26h-52zM3817 188h52v26h-52zM0 214h33v26h-33zM320 214h26v26h-26zM1103 214h52v26h-52zM2460 214h52v26h-52zM3086 214h52v26h-52zM3869 214h36v26h-36zM33 240h52v26h-52zM425 240h26v26h-26zM1103 240h52v26h-52zM2460 240h52v26h-52zM3086 240h52v26h-52zM3869 240h36v26h-36zM111 266h26v26h-26zM346 266h26v26h-26zM842 266h52v26h-52zM1312 266h104v26h-104zM2512 266h104v26h-104zM3086 266h52v26h-52zM268 292h78v26h-78zM842 292h52v26h-52zM1312 292h104v26h-104zM2512 292h104v26h-104zM3086 292h52v26h-52zM216 318h26v27h-26zM842 318h157v27h-157zM1051 318h52v27h-52zM1207 318h53v27h-53zM1625 318h52v27h-52zM1781 318h53v27h-53zM2095 318h52v27h-52zM2773 318h52v27h-52zM2877 318h53v27h-53zM33 345h26v26h-26zM164 345h26v26h-26zM842 345h157v26h-157zM1051 345h52v26h-52zM1207 345h53v26h-53zM1625 345h52v26h-52zM1781 345h53v26h-53zM2095 345h52v26h-52zM2773 345h52v26h-52zM2877 345h53v26h-53zM85 371h52v26h-52zM659 371h26v26h-26zM1573 371h52v26h-52zM2564 371h52v26h-52zM3295 371h52v26h-52zM85 397h26v26h-26zM137 397h53v26h-53zM581 397h26v26h-26zM685 397h27v26h-27zM1573 397h52v26h-52zM2564 397h52v26h-52zM3295 397h52v26h-52zM59 423h26v26h-26zM190 423h26v26h-26zM712 423h26v26h-26zM1364 423h157v26h-157zM1781 423h105v26h-105zM2564 423h52v26h-52zM2773 423h52v26h-52zM2877 423h53v26h-53zM3086 423h105v26h-105zM659 449h26v26h-26zM738 449h52v26h-52zM1364 449h157v26h-157zM1781 449h105v26h-105zM2564 449h52v26h-52zM2773 449h52v26h-52zM2877 449h53v26h-53zM3086 449h105v26h-105zM59 475h26v27h-26zM685 475h27v27h-27zM842 475h52v27h-52zM1364 475h104v27h-104zM1729 475h52v27h-52zM2042 475h105v27h-105zM2460 475h52v27h-52zM2825 475h52v27h-52zM3504 475h52v27h-52zM85 502h26v26h-26zM529 502h52v26h-52zM842 502h52v26h-52zM1364 502h104v26h-104zM1729 502h52v26h-52zM2042 502h105v26h-105zM2460 502h52v26h-52zM2825 502h52v26h-52zM3504 502h52v26h-52zM425 528h26v26h-26zM633 528h26v26h-26zM1103 528h52v26h-52zM2303 528h53v26h-53zM2460 528h52v26h-52zM1103 554h52v26h-52zM2303 554h53v26h-53zM2460 554h52v26h-52zM555 580h26v26h-26zM790 580h156v26h-156zM2460 580h52v26h-52zM2930 580h52v26h-52zM659 606h26v26h-26zM790 606h156v26h-156zM2460 606h52v26h-52zM2930 606h52v26h-52zM85 632h26v26h-26zM2564 632h105v26h-105zM2825 632h52v26h-52zM2982 632h52v26h-52zM3295 632h104v26h-104zM2564 658h105v27h-105zM2825 658h52v27h-52zM2982 658h52v27h-52zM3295 658h104v27h-104zM425 685h26v26h-26zM1729 685h105v26h-105zM1886 685h52v26h-52zM2408 685h52v26h-52zM2669 685h52v26h-52zM2825 685h157v26h-157zM3295 685h52v26h-52zM3504 685h52v26h-52zM398 711h53v26h-53zM1729 711h105v26h-105zM1886 711h52v26h-52zM2408 711h52v26h-52zM2669 711h52v26h-52zM2825 711h157v26h-157zM3295 711h52v26h-52zM3504 711h52v26h-52zM216 737h52v26h-52zM425 737h26v26h-26zM1781 737h53v26h-53zM2303 737h53v26h-53zM2460 737h52v26h-52zM2616 737h53v26h-53zM2721 737h52v26h-52zM2877 737h105v26h-105zM3243 737h52v26h-52zM1781 763h53v26h-53zM2303 763h53v26h-53zM2460 763h52v26h-52zM2616 763h53v26h-53zM2721 763h52v26h-52zM2877 763h105v26h-105zM3243 763h52v26h-52zM1886 789h52v26h-52zM1990 789h105v26h-105zM2303 789h53v26h-53zM1886 815h52v27h-52zM1990 815h105v27h-105zM2303 815h53v27h-53zM1364 842h52v26h-52zM1521 842h156v26h-156zM1781 842h53v26h-53zM1990 842h52v26h-52zM2408 842h52v26h-52zM3817 842h88v26h-88zM1364 868h52v26h-52zM1521 868h156v26h-156zM1781 868h53v26h-53zM1990 868h52v26h-52zM2408 868h52v26h-52zM3817 868h88v26h-88zM1990 894h157v26h-157zM3504 894h156v26h-156zM3712 894h53v26h-53zM0 920h85v26h-85zM111 920h53v26h-53zM1990 920h157v26h-157zM3504 920h156v26h-156zM3712 920h53v26h-53zM0 946h33v26h-33zM1155 946h52v26h-52zM2356 946h52v26h-52zM2721 946h52v26h-52zM3556 946h104v26h-104zM3765 946h52v26h-52zM1155 972h52v26h-52zM2356 972h52v26h-52zM2721 972h52v26h-52zM3556 972h104v26h-104zM3765 972h52v26h-52zM268 998h26v27h-26zM3452 998h104v27h-104zM3660 998h52v27h-52zM3765 998h140v27h-140zM3452 1025h104v26h-104zM3660 1025h52v26h-52zM3765 1025h140v26h-140zM1103 1051h52v26h-52zM1468 1051h53v26h-53zM1103 1077h52v26h-52zM1468 1077h53v26h-53zM2590 1077h26v26h-26zM581 1103h52v26h-52zM3869 1103h36v26h-36zM581 1129h52v26h-52zM3086 1129h26v26h-26zM3869 1129h36v26h-36zM1990 1155h52v27h-52zM2199 1155h52v27h-52zM2982 1155h52v27h-52zM1990 1182h52v26h-52zM2199 1182h52v26h-52zM2512 1182h26v26h-26zM2956 1182h26v26h-26zM1781 1208h53v26h-53zM2199 1208h104v26h-104zM2904 1208h52v26h-52zM1781 1234h53v26h-53zM2199 1234h104v26h-104zM2904 1234h104v26h-104zM2356 1260h26v26h-26zM2408 1260h26v26h-26zM2590 1260h26v26h-26zM2851 1260h26v26h-26zM2408 1286h26v26h-26zM2460 1286h78v26h-78zM2460 1312h78v27h-78zM2486 1339h26v26h-26zM2564 1339h26v26h-26zM2747 1339h52v26h-52zM999 1365h52v26h-52zM1207 1365h53v26h-53zM2643 1365h78v26h-78zM2773 1365h26v26h-26zM2825 1365h52v26h-52zM3765 1365h52v26h-52zM999 1391h52v26h-52zM1207 1391h53v26h-53zM2616 1391h53v26h-53zM2721 1391h26v26h-26zM3765 1391h52v26h-52zM2851 1417h26v26h-26zM2616 1443h53v26h-53zM2773 1443h26v26h-26zM1364 1469h52v26h-52zM2486 1469h78v26h-78zM1364 1495h52v27h-52zM2512 1495h26v27h-26zM2695 1495h26v27h-26zM1938 1522h104v26h-104zM2434 1522h26v26h-26zM2643 1522h26v26h-26zM1938 1548h104v26h-104zM2851 1548h26v26h-26zM1260 1574h26v26h-26zM1521 1574h26v26h-26zM1990 1574h105v26h-105zM2356 1574h52v26h-52zM2877 1574h53v26h-53zM3034 1574h52v26h-52zM3347 1574h52v26h-52zM1494 1600h27v26h-27zM1990 1600h105v26h-105zM2356 1600h52v26h-52zM2877 1600h53v26h-53zM3034 1600h52v26h-52zM3347 1600h52v26h-52zM1129 1626h26v26h-26zM1521 1626h26v26h-26zM1938 1626h104v26h-104zM2564 1626h52v26h-52zM2773 1626h104v26h-104zM3399 1626h53v26h-53zM1181 1652h26v27h-26zM1442 1652h26v27h-26zM1938 1652h104v27h-104zM2564 1652h52v27h-52zM2773 1652h104v27h-104zM3399 1652h53v27h-53zM1494 1679h27v26h-27zM1938 1679h104v26h-104zM2095 1679h52v26h-52zM2408 1679h208v26h-208zM3869 1679h36v26h-36zM1129 1705h26v26h-26zM1181 1705h26v26h-26zM1938 1705h104v26h-104zM2095 1705h52v26h-52zM2408 1705h208v26h-208zM3869 1705h36v26h-36zM1155 1731h26v26h-26zM1233 1731h27v26h-27zM1625 1731h52v26h-52zM2095 1731h52v26h-52zM2616 1731h53v26h-53zM3243 1731h52v26h-52zM3504 1731h52v26h-52zM1260 1757h26v26h-26zM1625 1757h52v26h-52zM2095 1757h52v26h-52zM2616 1757h53v26h-53zM3243 1757h52v26h-52zM3504 1757h52v26h-52zM920 1783h26v26h-26zM973 1783h26v26h-26zM1103 1783h26v26h-26zM1834 1783h104v26h-104zM2616 1783h105v26h-105zM1103 1809h26v26h-26zM1834 1809h104v26h-104zM2616 1809h105v26h-105zM1155 1835h26v27h-26zM1729 1835h52v27h-52zM1834 1835h52v27h-52zM1990 1835h52v27h-52zM2877 1835h53v27h-53zM3086 1835h52v27h-52zM868 1862h26v26h-26zM920 1862h26v26h-26zM1025 1862h26v26h-26zM1181 1862h26v26h-26zM1729 1862h52v26h-52zM1834 1862h52v26h-52zM1990 1862h52v26h-52zM2877 1862h53v26h-53zM3086 1862h52v26h-52zM659 1888h26v26h-26zM790 1888h26v26h-26zM1729 1888h52v26h-52zM2095 1888h52v26h-52zM659 1914h26v26h-26zM738 1914h26v26h-26zM946 1914h27v26h-27zM1729 1914h52v26h-52zM2095 1914h52v26h-52zM1077 1940h52v26h-52zM1938 1940h52v26h-52zM2564 1940h105v26h-105zM764 1966h26v26h-26zM842 1966h52v26h-52zM1938 1966h52v26h-52zM2564 1966h105v26h-105zM738 1992h26v27h-26zM790 1992h52v27h-52zM1834 1992h52v27h-52zM2199 1992h52v27h-52zM2408 1992h52v27h-52zM2512 1992h52v27h-52zM2616 1992h53v27h-53zM712 2019h26v26h-26zM764 2019h26v26h-26zM1834 2019h52v26h-52zM2199 2019h52v26h-52zM2408 2019h52v26h-52zM2512 2019h52v26h-52zM2616 2019h53v26h-53zM2408 2045h52v26h-52zM659 2071h53v26h-53zM764 2071h26v26h-26zM868 2071h26v26h-26zM2408 2071h52v26h-52zM633 2097h26v26h-26zM738 2097h26v26h-26zM790 2097h26v26h-26zM868 2097h26v26h-26zM1703 2097h26v26h-26zM1808 2097h26v26h-26zM2121 2097h52v26h-52zM2356 2097h26v26h-26zM2408 2097h78v26h-78zM111 2123h26v26h-26zM190 2123h26v26h-26zM320 2123h52v26h-52zM659 2123h26v26h-26zM738 2123h26v26h-26zM842 2123h26v26h-26zM2147 2123h26v26h-26zM2329 2123h27v26h-27zM2382 2123h26v26h-26zM659 2149h26v26h-26zM712 2149h26v26h-26zM842 2149h26v26h-26zM894 2149h26v26h-26zM1781 2149h27v26h-27zM2147 2149h26v26h-26zM2303 2149h53v26h-53zM2382 2149h26v26h-26zM1207 2175h26v27h-26zM1834 2175h78v27h-78zM2199 2175h26v27h-26zM2303 2175h26v27h-26zM3191 2175h26v27h-26zM3269 2175h26v27h-26zM712 2202h26v26h-26zM1703 2202h78v26h-78zM2173 2202h26v26h-26zM2277 2202h79v26h-79zM2877 2202h27v26h-27zM842 2228h26v26h-26zM1077 2228h26v26h-26zM2173 2228h26v26h-26zM3321 2228h26v26h-26zM2042 2254h27v26h-27zM2877 2254h27v26h-27zM868 2280h26v26h-26zM1338 2280h26v26h-26zM1599 2280h26v26h-26zM1755 2280h26v26h-26zM2121 2280h26v26h-26zM2669 2280h26v26h-26zM3164 2280h27v26h-27zM607 2306h26v26h-26zM3269 2306h26v26h-26zM790 2332h26v27h-26zM3217 2332h26v27h-26zM764 2359h26v26h-26zM1103 2359h26v26h-26zM1338 2359h26v26h-26zM1573 2359h52v26h-52zM2069 2359h26v26h-26zM2121 2359h26v26h-26zM2956 2359h26v26h-26zM3843 2359h26v26h-26zM946 2385h27v26h-27zM1338 2385h26v26h-26zM1886 2385h26v26h-26zM3243 2385h26v26h-26zM946 2411h53v26h-53zM1051 2411h26v26h-26zM1286 2411h26v26h-26zM1468 2411h26v26h-26zM1547 2411h26v26h-26zM1886 2411h26v26h-26zM2695 2411h26v26h-26zM1521 2437h52v26h-52zM3373 2437h26v26h-26zM2225 2463h26v26h-26zM3399 2463h53v26h-53zM3817 2463h26v26h-26zM3869 2463h26v26h-26zM1416 2489h26v26h-26zM2277 2489h26v26h-26zM2851 2489h26v26h-26zM2956 2489h26v26h-26zM3452 2489h26v26h-26zM3608 2489h26v26h-26zM529 2515h26v27h-26zM973 2515h26v27h-26zM3530 2515h26v27h-26zM3582 2515h26v27h-26zM946 2542h27v26h-27zM1025 2542h26v26h-26zM1338 2542h26v26h-26zM1964 2542h26v26h-26zM3295 2542h78v26h-78zM1025 2568h26v26h-26zM1338 2568h26v26h-26zM1390 2568h26v26h-26zM2616 2568h27v26h-27zM3060 2568h78v26h-78zM3425 2568h53v26h-53zM1025 2594h26v26h-26zM1364 2594h26v26h-26zM2069 2594h26v26h-26zM3008 2594h156v26h-156zM3399 2594h26v26h-26zM3452 2594h26v26h-26zM1364 2620h26v26h-26zM1964 2620h26v26h-26zM2016 2620h53v26h-53zM2460 2620h26v26h-26zM2721 2620h52v26h-52zM3086 2620h26v26h-26zM3269 2620h26v26h-26zM3321 2620h52v26h-52z"/>
<path fill="#FFE366" d="M137 0h27v31h-27zM2356 109h52v26h-52zM3034 109h52v26h-52zM216 135h26v27h-26zM2356 135h52v27h-52zM3034 135h52v27h-52zM0 162h33v26h-33zM3086 162h52v26h-52zM3869 162h36v26h-36zM3086 188h52v26h-52zM3869 188h36v26h-36zM85 214h26v26h-26zM2408 214h52v26h-52zM2408 240h52v26h-52zM320 266h26v26h-26zM894 266h105v26h-105zM2408 266h52v26h-52zM2616 266h105v26h-105zM3138 266h53v26h-53zM164 292h26v26h-26zM894 292h105v26h-105zM2408 292h52v26h-52zM2616 292h105v26h-105zM3138 292h53v26h-53zM85 318h26v27h-26zM1834 318h52v27h-52zM2042 318h53v27h-53zM2616 318h53v27h-53zM3138 318h53v27h-53zM137 345h27v26h-27zM1834 345h52v26h-52zM2042 345h53v26h-53zM2616 345h53v26h-53zM3138 345h53v26h-53zM33 371h26v26h-26zM1521 371h52v26h-52zM1625 371h52v26h-52zM2460 371h52v26h-52zM3086 371h105v26h-105zM0 397h33v26h-33zM59 397h26v26h-26zM1521 397h52v26h-52zM1625 397h52v26h-52zM2460 397h52v26h-52zM3086 397h105v26h-105zM0 423h33v26h-33zM164 423h26v26h-26zM1729 423h52v26h-52zM1886 423h52v26h-52zM2825 423h52v26h-52zM3191 423h52v26h-52zM3399 423h53v26h-53zM0 449h33v26h-33zM685 449h53v26h-53zM1729 449h52v26h-52zM1886 449h52v26h-52zM2825 449h52v26h-52zM3191 449h52v26h-52zM3399 449h53v26h-53zM790 475h52v27h-52zM894 475h105v27h-105zM1625 475h104v27h-104zM59 502h26v26h-26zM790 502h52v26h-52zM894 502h105v26h-105zM1625 502h104v26h-104zM372 528h26v26h-26zM555 528h26v26h-26zM659 528h53v26h-53zM999 528h104v26h-104zM2356 528h52v26h-52zM2930 528h52v26h-52zM738 554h26v26h-26zM999 554h104v26h-104zM2356 554h52v26h-52zM2930 554h52v26h-52zM190 580h78v26h-78zM503 580h26v26h-26zM581 580h26v26h-26zM2616 580h53v26h-53zM398 606h79v26h-79zM503 606h26v26h-26zM607 606h52v26h-52zM685 606h53v26h-53zM2616 606h53v26h-53zM294 632h26v26h-26zM451 632h26v26h-26zM2773 632h52v26h-52zM2773 658h52v27h-52zM398 685h27v26h-27zM1834 685h52v26h-52zM2721 685h52v26h-52zM3556 685h52v26h-52zM190 711h52v26h-52zM372 711h26v26h-26zM1834 711h52v26h-52zM2721 711h52v26h-52zM3556 711h52v26h-52zM1834 737h104v26h-104zM2251 737h52v26h-52zM2512 737h104v26h-104zM3556 737h52v26h-52zM164 763h26v26h-26zM1834 763h104v26h-104zM2251 763h52v26h-52zM2512 763h104v26h-104zM3556 763h52v26h-52zM1625 789h52v26h-52zM1938 789h52v26h-52zM2095 789h52v26h-52zM2251 789h52v26h-52zM1625 815h52v27h-52zM1938 815h52v27h-52zM2095 815h52v27h-52zM2251 815h52v27h-52zM1729 842h52v26h-52zM1834 842h156v26h-156zM2147 842h52v26h-52zM2356 842h52v26h-52zM1729 868h52v26h-52zM1834 868h156v26h-156zM2147 868h52v26h-52zM2356 868h52v26h-52zM1834 894h52v26h-52zM2147 894h156v26h-156zM2512 894h52v26h-52zM3660 894h52v26h-52zM3765 894h104v26h-104zM1834 920h52v26h-52zM2147 920h156v26h-156zM2512 920h52v26h-52zM3660 920h52v26h-52zM3765 920h104v26h-104zM2408 946h52v26h-52zM3660 946h105v26h-105zM3817 946h52v26h-52zM2408 972h52v26h-52zM3660 972h105v26h-105zM3817 972h52v26h-52zM3608 998h52v27h-52zM3712 998h53v27h-53zM3608 1025h52v26h-52zM3712 1025h53v26h-53zM685 1051h53v26h-53zM2616 1051h27v26h-27zM3112 1051h26v26h-26zM685 1077h53v26h-53zM3112 1103h26v26h-26zM3191 1103h52v26h-52zM3034 1129h52v26h-52zM3191 1129h52v26h-52zM790 1155h52v27h-52zM2095 1155h52v27h-52zM2538 1155h26v27h-26zM2930 1155h52v27h-52zM790 1182h52v26h-52zM2095 1182h52v26h-52zM2930 1182h26v26h-26zM2303 1208h53v26h-53zM2799 1208h26v26h-26zM2877 1208h27v26h-27zM2303 1234h53v26h-53zM946 1260h53v26h-53zM2564 1260h26v26h-26zM2825 1260h26v26h-26zM946 1286h53v26h-53zM2434 1286h26v26h-26zM999 1312h52v27h-52zM2538 1312h26v27h-26zM3660 1312h52v27h-52zM999 1339h52v26h-52zM2590 1339h26v26h-26zM2721 1339h26v26h-26zM3660 1339h52v26h-52zM1155 1365h52v26h-52zM2721 1365h52v26h-52zM3712 1365h53v26h-53zM1155 1391h52v26h-52zM2669 1391h52v26h-52zM2747 1391h26v26h-26zM2825 1391h52v26h-52zM3712 1391h53v26h-53zM2590 1417h26v26h-26zM2799 1417h52v26h-52zM2747 1443h26v26h-26zM1468 1469h53v26h-53zM1468 1495h53v27h-53zM2486 1495h26v27h-26zM2669 1522h26v26h-26zM3869 1522h36v26h-36zM3869 1548h36v26h-36zM1155 1574h26v26h-26zM2930 1574h52v26h-52zM3086 1574h52v26h-52zM3399 1574h53v26h-53zM3765 1574h52v26h-52zM1260 1600h26v26h-26zM2930 1600h52v26h-52zM3086 1600h52v26h-52zM3399 1600h53v26h-53zM3765 1600h52v26h-52zM1442 1626h26v26h-26zM2930 1626h52v26h-52zM1051 1652h26v27h-26zM1155 1652h26v27h-26zM1207 1652h26v27h-26zM1390 1652h26v27h-26zM1468 1652h53v27h-53zM2930 1652h52v27h-52zM1442 1679h52v26h-52zM1521 1679h26v26h-26zM999 1705h26v26h-26zM1051 1705h26v26h-26zM868 1731h52v26h-52zM1181 1731h52v26h-52zM1677 1731h52v26h-52zM946 1757h27v26h-27zM1677 1757h52v26h-52zM946 1783h27v26h-27zM1129 1783h26v26h-26zM1729 1783h52v26h-52zM2095 1783h52v26h-52zM1077 1809h26v26h-26zM1181 1809h26v26h-26zM1729 1809h52v26h-52zM2095 1809h52v26h-52zM842 1835h26v27h-26zM1103 1835h52v27h-52zM1181 1835h26v27h-26zM1886 1835h52v27h-52zM2721 1835h52v27h-52zM816 1862h26v26h-26zM1155 1862h26v26h-26zM1886 1862h52v26h-52zM2721 1862h52v26h-52zM1025 1888h26v26h-26zM1886 1888h104v26h-104zM2042 1888h53v26h-53zM2877 1888h53v26h-53zM3034 1888h52v26h-52zM712 1914h26v26h-26zM1077 1914h26v26h-26zM1886 1914h104v26h-104zM2042 1914h53v26h-53zM2877 1914h53v26h-53zM3034 1914h52v26h-52zM764 1940h26v26h-26zM816 1940h52v26h-52zM1990 1940h105v26h-105zM2669 1940h52v26h-52zM816 1966h26v26h-26zM1990 1966h105v26h-105zM2669 1966h52v26h-52zM2303 1992h53v27h-53zM738 2019h26v26h-26zM2303 2019h53v26h-53zM659 2045h53v26h-53zM764 2045h26v26h-26zM2251 2045h52v26h-52zM738 2071h26v26h-26zM999 2071h26v26h-26zM2251 2071h52v26h-52zM268 2097h26v26h-26zM764 2097h26v26h-26zM816 2097h52v26h-52zM2173 2097h26v26h-26zM633 2123h26v26h-26zM764 2123h26v26h-26zM1703 2123h26v26h-26zM2199 2123h52v26h-52zM2356 2123h26v26h-26zM85 2149h26v26h-26zM816 2149h26v26h-26zM1677 2149h26v26h-26zM2199 2149h26v26h-26zM2982 2149h26v26h-26zM1808 2175h26v27h-26zM3060 2175h26v27h-26zM3112 2175h26v27h-26zM2669 2202h26v26h-26zM3086 2202h26v26h-26zM3269 2202h26v26h-26zM3086 2228h26v26h-26zM529 2254h26v26h-26zM1547 2254h26v26h-26zM1677 2254h26v26h-26zM2069 2254h26v26h-26zM2121 2254h26v26h-26zM3112 2254h26v26h-26zM3608 2254h26v26h-26zM1573 2280h26v26h-26zM1990 2280h52v26h-52zM2069 2280h26v26h-26zM3243 2280h78v26h-78zM555 2306h26v26h-26zM790 2306h26v26h-26zM842 2306h26v26h-26zM999 2306h52v26h-52zM3243 2306h26v26h-26zM816 2332h26v27h-26zM973 2332h26v27h-26zM1025 2332h26v27h-26zM3164 2332h27v27h-27zM3843 2332h26v27h-26zM1155 2359h26v26h-26zM1547 2359h26v26h-26zM2434 2359h26v26h-26zM3060 2359h26v26h-26zM3869 2359h26v26h-26zM607 2385h52v26h-52zM920 2385h26v26h-26zM1547 2385h26v26h-26zM2225 2385h26v26h-26zM2747 2385h26v26h-26zM2930 2385h26v26h-26zM3217 2385h26v26h-26zM894 2411h52v26h-52zM1025 2411h26v26h-26zM2434 2411h26v26h-26zM2616 2411h27v26h-27zM3138 2411h26v26h-26zM607 2437h26v26h-26zM920 2437h26v26h-26zM3399 2437h26v26h-26zM1442 2463h26v26h-26zM1938 2463h26v26h-26zM1990 2463h26v26h-26zM2329 2463h27v26h-27zM3373 2463h26v26h-26zM1207 2489h26v26h-26zM3164 2489h27v26h-27zM3478 2489h52v26h-52zM1051 2515h26v27h-26zM1181 2515h26v27h-26zM3191 2515h26v27h-26zM3556 2515h26v27h-26zM2016 2542h26v26h-26zM3269 2542h26v26h-26zM2460 2568h26v26h-26zM2930 2568h26v26h-26zM3034 2568h26v26h-26zM3373 2568h52v26h-52zM1964 2594h26v26h-26zM2877 2594h27v26h-27zM3425 2594h27v26h-27zM2069 2620h26v26h-26zM2486 2620h26v26h-26zM2669 2620h26v26h-26zM3060 2620h26v26h-26zM3112 2620h26v26h-26zM3243 2620h26v26h-26zM3295 2620h26v26h-26zM3791 2620h52v26h-52zM3869 2620h26v26h-26z"/>
<path fill="#FFCC00" d="M164 0h26v31h-26zM111 31h26v26h-26zM0 135h33v27h-33zM137 214h27v26h-27zM242 214h26v26h-26zM294 214h26v26h-26zM0 240h33v26h-33zM320 240h26v26h-26zM85 266h26v26h-26zM216 266h104v26h-104zM999 266h52v26h-52zM1260 266h52v26h-52zM85 292h52v26h-52zM216 292h26v26h-26zM999 292h52v26h-52zM1260 292h52v26h-52zM137 318h27v27h-27zM1677 318h52v27h-52zM2564 318h52v27h-52zM2669 318h104v27h-104zM0 345h33v26h-33zM59 345h78v26h-78zM1677 345h52v26h-52zM2564 345h52v26h-52zM2669 345h104v26h-104zM59 371h26v26h-26zM2408 371h52v26h-52zM2721 371h52v26h-52zM3191 371h104v26h-104zM2408 397h52v26h-52zM2721 397h52v26h-52zM3191 397h104v26h-104zM1521 423h104v26h-104zM1938 423h157v26h-157zM2408 423h52v26h-52zM633 449h26v26h-26zM1521 449h104v26h-104zM1938 449h157v26h-157zM2408 449h52v26h-52zM33 475h26v27h-26zM164 475h130v27h-130zM1468 475h53v27h-53zM1573 475h52v27h-52zM2147 475h52v27h-52zM2356 475h52v27h-52zM2564 475h52v27h-52zM2877 475h53v27h-53zM3191 475h52v27h-52zM294 502h26v26h-26zM685 502h27v26h-27zM738 502h26v26h-26zM1468 502h53v26h-53zM1573 502h52v26h-52zM2147 502h52v26h-52zM2356 502h52v26h-52zM2564 502h52v26h-52zM2877 502h53v26h-53zM3191 502h52v26h-52zM398 528h27v26h-27zM451 528h52v26h-52zM529 528h26v26h-26zM712 528h26v26h-26zM946 528h53v26h-53zM2408 528h52v26h-52zM503 554h26v26h-26zM685 554h53v26h-53zM946 554h53v26h-53zM2408 554h52v26h-52zM111 580h26v26h-26zM372 580h26v26h-26zM477 580h26v26h-26zM685 580h27v26h-27zM2825 580h52v26h-52zM3399 580h53v26h-53zM346 606h52v26h-52zM581 606h26v26h-26zM2825 606h52v26h-52zM3399 606h53v26h-53zM320 632h26v26h-26zM425 632h26v26h-26zM477 632h26v26h-26zM2721 632h52v26h-52zM346 658h26v27h-26zM451 658h26v27h-26zM2721 658h52v27h-52zM294 685h52v26h-52zM372 685h26v26h-26zM2773 685h52v26h-52zM242 711h26v26h-26zM294 711h78v26h-78zM2773 711h52v26h-52zM2199 737h52v26h-52zM3504 737h52v26h-52zM111 763h53v26h-53zM2199 763h52v26h-52zM3504 763h52v26h-52zM1677 789h209v26h-209zM2147 789h104v26h-104zM3034 789h104v26h-104zM33 815h26v27h-26zM1677 815h209v27h-209zM2147 815h104v27h-104zM3034 815h104v27h-104zM0 842h33v26h-33zM2199 842h52v26h-52zM0 868h59v26h-59zM2199 868h52v26h-52zM59 894h26v26h-26zM1781 894h53v26h-53zM2982 894h52v26h-52zM3869 894h36v26h-36zM1781 920h53v26h-53zM2982 920h52v26h-52zM3869 920h36v26h-36zM3452 946h104v26h-104zM3869 946h36v26h-36zM3452 972h104v26h-104zM3869 972h36v26h-36zM2669 998h52v27h-52zM3295 998h52v27h-52zM2669 1025h52v26h-52zM3295 1025h52v26h-52zM477 1051h208v26h-208zM3086 1051h26v26h-26zM3191 1051h52v26h-52zM477 1077h208v26h-208zM3191 1077h52v26h-52zM3138 1103h53v26h-53zM2982 1129h52v26h-52zM3138 1129h53v26h-53zM2147 1155h52v27h-52zM2904 1155h26v27h-26zM2147 1182h52v26h-52zM2799 1182h131v26h-131zM790 1208h52v26h-52zM894 1208h52v26h-52zM2564 1208h26v26h-26zM2851 1208h26v26h-26zM790 1234h52v26h-52zM894 1234h52v26h-52zM2356 1234h78v26h-78zM2486 1234h26v26h-26zM2825 1234h79v26h-79zM2434 1260h52v26h-52zM2799 1260h26v26h-26zM2538 1286h26v26h-26zM2669 1286h26v26h-26zM2799 1286h26v26h-26zM2590 1312h26v27h-26zM2669 1312h26v27h-26zM2616 1339h27v26h-27zM2669 1339h52v26h-52zM3869 1365h36v26h-36zM2773 1391h52v26h-52zM3869 1391h36v26h-36zM1103 1417h52v26h-52zM2616 1417h79v26h-79zM2747 1417h52v26h-52zM1103 1443h52v26h-52zM1521 1469h104v26h-104zM1521 1495h104v27h-104zM2590 1495h26v27h-26zM1468 1522h53v26h-53zM1468 1548h53v26h-53zM1468 1574h26v26h-26zM2982 1574h52v26h-52zM3138 1574h53v26h-53zM3452 1574h52v26h-52zM1286 1600h26v26h-26zM1468 1600h26v26h-26zM2982 1600h52v26h-52zM3138 1600h53v26h-53zM3452 1600h52v26h-52zM1051 1626h52v26h-52zM1155 1626h26v26h-26zM1468 1626h26v26h-26zM2877 1626h53v26h-53zM3295 1626h52v26h-52zM2877 1652h53v27h-53zM3295 1652h52v27h-52zM1286 1679h26v26h-26zM2356 1679h52v26h-52zM2773 1679h52v26h-52zM1260 1705h26v26h-26zM2356 1705h52v26h-52zM2773 1705h52v26h-52zM1025 1731h26v26h-26zM2669 1731h52v26h-52zM1129 1757h52v26h-52zM2669 1757h52v26h-52zM1077 1783h26v26h-26zM1155 1783h52v26h-52zM2773 1783h52v26h-52zM2930 1783h52v26h-52zM1051 1809h26v26h-26zM1129 1809h52v26h-52zM2773 1809h52v26h-52zM2930 1809h52v26h-52zM1025 1835h26v27h-26zM1077 1835h26v27h-26zM842 1862h26v26h-26zM868 1888h26v26h-26zM1077 1888h26v26h-26zM1990 1888h52v26h-52zM2825 1888h52v26h-52zM607 1914h26v26h-26zM842 1914h52v26h-52zM999 1914h52v26h-52zM1990 1914h52v26h-52zM2825 1914h52v26h-52zM685 1940h27v26h-27zM790 1940h26v26h-26zM1886 1940h52v26h-52zM2721 1940h52v26h-52zM3034 1940h52v26h-52zM738 1966h26v26h-26zM790 1966h26v26h-26zM1886 1966h52v26h-52zM2721 1966h52v26h-52zM3034 1966h52v26h-52zM633 2019h26v26h-26zM738 2045h26v26h-26zM1886 2045h52v26h-52zM2303 2045h105v26h-105zM242 2071h26v26h-26zM712 2071h26v26h-26zM1886 2071h52v26h-52zM2303 2071h105v26h-105zM712 2097h26v26h-26zM1651 2097h52v26h-52zM1834 2097h26v26h-26zM2199 2097h26v26h-26zM85 2123h26v26h-26zM712 2123h26v26h-26zM1808 2123h26v26h-26zM2173 2123h26v26h-26zM633 2149h26v26h-26zM1703 2149h26v26h-26zM2904 2149h26v26h-26zM3191 2149h26v26h-26zM685 2175h27v27h-27zM1233 2175h27v27h-27zM1703 2175h52v27h-52zM503 2202h26v26h-26zM1599 2202h26v26h-26zM1677 2202h26v26h-26zM1677 2228h26v26h-26zM3112 2228h26v26h-26zM633 2254h26v26h-26zM1364 2254h26v26h-26zM2016 2254h26v26h-26zM2095 2254h26v26h-26zM2251 2254h26v26h-26zM790 2280h52v26h-52zM2095 2280h26v26h-26zM2851 2280h26v26h-26zM3112 2280h52v26h-52zM3217 2280h26v26h-26zM816 2306h26v26h-26zM2251 2306h26v26h-26zM3217 2306h26v26h-26zM3765 2306h26v26h-26zM999 2332h26v27h-26zM1599 2332h26v27h-26zM2877 2332h27v27h-27zM3243 2332h26v27h-26zM3765 2332h52v27h-52zM3112 2359h26v26h-26zM1494 2385h27v26h-27zM2121 2385h26v26h-26zM3138 2385h26v26h-26zM3608 2411h26v26h-26zM973 2437h26v26h-26zM1025 2437h78v26h-78zM581 2463h26v26h-26zM633 2463h26v26h-26zM946 2463h27v26h-27zM1964 2463h26v26h-26zM3452 2463h26v26h-26zM1103 2489h52v26h-52zM1312 2489h26v26h-26zM1938 2489h26v26h-26zM1990 2489h26v26h-26zM1312 2515h26v27h-26zM1964 2515h26v27h-26zM1181 2542h26v26h-26zM1312 2542h26v26h-26zM2851 2542h26v26h-26zM2956 2542h26v26h-26zM3243 2542h26v26h-26zM1312 2568h26v26h-26zM2016 2568h26v26h-26zM2877 2568h27v26h-27zM2982 2568h52v26h-52zM3269 2568h26v26h-26zM3347 2568h26v26h-26zM1312 2594h26v26h-26zM2277 2594h26v26h-26zM2721 2594h26v26h-26zM2825 2594h52v26h-52zM2982 2594h26v26h-26zM3164 2594h27v26h-27zM3373 2594h26v26h-26zM2382 2620h26v26h-26zM2695 2620h26v26h-26zM2877 2620h27v26h-27zM2930 2620h26v26h-26zM3008 2620h52v26h-52zM3191 2620h26v26h-26zM3843 2620h26v26h-26z"/>
<path fill="#FF9900" d="M190 0h26v31h-26zM190 31h26v26h-26zM59 57h26v26h-26zM190 57h26v26h-26zM190 83h26v26h-26zM59 109h26v26h-26zM999 109h52v26h-52zM3086 109h52v26h-52zM33 135h26v27h-26zM999 135h52v27h-52zM3086 135h52v27h-52zM33 188h52v26h-52zM190 188h26v26h-26zM242 188h26v26h-26zM1051 214h52v26h-52zM190 240h52v26h-52zM294 240h26v26h-26zM1051 240h52v26h-52zM59 266h26v26h-26zM1051 266h52v26h-52zM59 292h26v26h-26zM137 292h27v26h-27zM242 292h26v26h-26zM1051 292h52v26h-52zM59 318h26v27h-26zM111 318h26v27h-26zM1886 318h156v27h-156zM2512 318h52v27h-52zM1886 345h156v26h-156zM2512 345h52v26h-52zM1677 371h209v26h-209zM2042 371h53v26h-53zM2616 371h105v26h-105zM1677 397h209v26h-209zM2042 397h53v26h-53zM2616 397h105v26h-105zM581 423h26v26h-26zM2095 423h104v26h-104zM581 449h52v26h-52zM2095 449h104v26h-104zM137 475h27v27h-27zM294 475h104v27h-104zM425 475h26v27h-26zM764 475h26v27h-26zM1521 475h52v27h-52zM3347 475h52v27h-52zM3452 475h52v27h-52zM111 502h26v26h-26zM164 502h52v26h-52zM268 502h26v26h-26zM764 502h26v26h-26zM1521 502h52v26h-52zM3347 502h52v26h-52zM3452 502h52v26h-52zM59 528h26v26h-26zM111 528h26v26h-26zM738 528h156v26h-156zM2564 528h52v26h-52zM2773 528h104v26h-104zM3347 528h52v26h-52zM3452 528h52v26h-52zM111 554h26v26h-26zM346 554h26v26h-26zM764 554h130v26h-130zM2564 554h52v26h-52zM2773 554h104v26h-104zM3347 554h52v26h-52zM3452 554h52v26h-52zM659 580h26v26h-26zM2773 580h52v26h-52zM2877 580h53v26h-53zM555 606h26v26h-26zM2773 606h52v26h-52zM2877 606h53v26h-53zM242 632h52v26h-52zM346 632h26v26h-26zM2669 632h52v26h-52zM242 658h104v27h-104zM372 658h79v27h-79zM2669 658h52v27h-52zM164 685h26v26h-26zM268 685h26v26h-26zM346 685h26v26h-26zM137 711h53v26h-53zM268 711h26v26h-26zM1938 737h52v26h-52zM2095 737h104v26h-104zM1938 763h52v26h-52zM2095 763h104v26h-104zM0 815h33v27h-33zM2251 842h105v26h-105zM2251 868h105v26h-105zM0 894h59v26h-59zM2460 894h52v26h-52zM3295 894h52v26h-52zM2460 920h52v26h-52zM3295 920h52v26h-52zM3295 946h52v26h-52zM3295 972h52v26h-52zM3138 1051h53v26h-53zM3086 1077h105v26h-105zM633 1103h105v26h-105zM3060 1103h52v26h-52zM633 1129h105v26h-105zM2956 1129h26v26h-26zM2825 1155h79v27h-79zM2695 1182h104v26h-104zM2356 1208h52v26h-52zM2616 1208h53v26h-53zM2695 1208h52v26h-52zM2825 1208h26v26h-26zM2616 1234h157v26h-157zM2799 1234h26v26h-26zM2538 1260h26v26h-26zM2616 1260h105v26h-105zM2747 1260h52v26h-52zM2564 1286h52v26h-52zM2643 1286h26v26h-26zM2695 1286h26v26h-26zM842 1312h52v27h-52zM946 1312h53v27h-53zM2564 1312h26v27h-26zM2616 1312h53v27h-53zM2773 1312h26v27h-26zM3712 1312h105v27h-105zM842 1339h52v26h-52zM946 1339h53v26h-53zM2643 1339h26v26h-26zM3712 1339h105v26h-105zM3817 1365h52v26h-52zM3817 1391h52v26h-52zM894 1417h52v26h-52zM894 1443h52v26h-52zM2564 1495h26v27h-26zM1521 1522h52v26h-52zM1521 1548h52v26h-52zM1494 1574h27v26h-27zM1547 1574h26v26h-26zM3817 1574h52v26h-52zM1233 1600h27v26h-27zM1521 1600h26v26h-26zM3817 1600h52v26h-52zM1181 1626h26v26h-26zM1260 1626h26v26h-26zM1390 1626h26v26h-26zM1494 1626h27v26h-27zM2512 1626h52v26h-52zM2982 1626h52v26h-52zM1286 1652h26v27h-26zM2512 1652h52v27h-52zM2982 1652h52v27h-52zM2303 1679h53v26h-53zM2825 1679h105v26h-105zM3243 1679h52v26h-52zM1207 1705h53v26h-53zM2303 1705h53v26h-53zM2825 1705h105v26h-105zM3243 1705h52v26h-52zM973 1731h26v26h-26zM2773 1731h52v26h-52zM3086 1731h52v26h-52zM973 1757h52v26h-52zM1051 1757h26v26h-26zM1181 1757h26v26h-26zM2773 1757h52v26h-52zM3086 1757h52v26h-52zM1677 1783h52v26h-52zM2721 1783h52v26h-52zM1677 1809h52v26h-52zM2721 1809h52v26h-52zM894 1835h26v27h-26zM1051 1835h26v27h-26zM1677 1835h52v27h-52zM2930 1835h156v27h-156zM1677 1862h52v26h-52zM2930 1862h156v26h-156zM842 1888h26v26h-26zM764 1914h26v26h-26zM816 1914h26v26h-26zM659 1940h26v26h-26zM738 1940h26v26h-26zM2982 1940h52v26h-52zM712 1966h26v26h-26zM2982 1966h52v26h-52zM712 1992h26v27h-26zM2564 1992h52v27h-52zM2564 2019h52v26h-52zM633 2045h26v26h-26zM2460 2045h104v26h-104zM268 2071h26v26h-26zM2460 2071h104v26h-104zM242 2097h26v26h-26zM607 2097h26v26h-26zM685 2097h27v26h-27zM999 2097h26v26h-26zM1834 2123h26v26h-26zM685 2149h27v26h-27zM1729 2149h52v26h-52zM1808 2149h26v26h-26zM1886 2149h26v26h-26zM2877 2149h27v26h-27zM659 2175h26v27h-26zM3243 2175h26v27h-26zM633 2202h26v26h-26zM685 2202h27v26h-27zM1181 2202h79v26h-79zM2643 2202h26v26h-26zM503 2228h52v26h-52zM738 2228h26v26h-26zM3138 2228h26v26h-26zM3295 2228h26v26h-26zM764 2254h26v26h-26zM1390 2254h26v26h-26zM2225 2254h26v26h-26zM3086 2254h26v26h-26zM3217 2254h78v26h-78zM3634 2254h26v26h-26zM3765 2254h26v26h-26zM581 2280h26v26h-26zM633 2280h26v26h-26zM842 2280h26v26h-26zM3086 2280h26v26h-26zM3191 2280h26v26h-26zM3765 2280h26v26h-26zM764 2306h26v26h-26zM2225 2306h26v26h-26zM3791 2306h26v26h-26zM607 2332h26v27h-26zM764 2332h26v27h-26zM1521 2332h78v27h-78zM2199 2332h26v27h-26zM2382 2332h26v27h-26zM3086 2332h26v27h-26zM3712 2332h27v27h-27zM738 2359h26v26h-26zM1494 2359h53v26h-53zM3765 2359h26v26h-26zM555 2385h52v26h-52zM659 2385h26v26h-26zM1077 2385h26v26h-26zM1468 2385h26v26h-26zM1521 2385h26v26h-26zM2147 2385h26v26h-26zM2356 2385h26v26h-26zM2669 2385h26v26h-26zM2721 2385h26v26h-26zM3869 2385h26v26h-26zM555 2411h26v26h-26zM607 2411h26v26h-26zM659 2411h26v26h-26zM1103 2411h26v26h-26zM3112 2411h26v26h-26zM555 2437h26v26h-26zM1442 2437h26v26h-26zM3138 2437h26v26h-26zM3530 2437h52v26h-52zM3895 2437h10v26h-10zM555 2463h26v26h-26zM685 2463h27v26h-27zM1103 2463h26v26h-26zM1233 2463h27v26h-27zM1416 2463h26v26h-26zM2930 2463h26v26h-26zM3138 2463h26v26h-26zM1155 2489h26v26h-26zM1286 2489h26v26h-26zM1964 2489h26v26h-26zM2825 2489h26v26h-26zM3034 2489h26v26h-26zM1207 2515h26v27h-26zM1286 2515h26v27h-26zM1990 2515h26v27h-26zM2251 2515h26v27h-26zM2877 2515h53v27h-53zM3164 2515h27v27h-27zM2329 2542h27v26h-27zM2669 2542h26v26h-26zM2877 2542h53v26h-53zM1286 2568h26v26h-26zM2721 2568h52v26h-52zM2851 2568h26v26h-26zM2904 2568h26v26h-26zM3138 2568h26v26h-26zM3243 2568h26v26h-26zM3321 2568h26v26h-26zM1286 2594h26v26h-26zM1990 2594h52v26h-52zM2434 2594h26v26h-26zM2773 2594h26v26h-26zM3191 2594h26v26h-26zM3295 2594h78v26h-78zM1312 2620h26v26h-26zM2303 2620h26v26h-26zM2356 2620h26v26h-26zM2799 2620h26v26h-26zM2904 2620h26v26h-26zM2956 2620h52v26h-52zM3138 2620h26v26h-26zM3217 2620h26v26h-26z"/>
<path fill="#FF6600" d="M33 0h26v31h-26zM85 31h26v26h-26zM164 31h26v26h-26zM164 57h26v26h-26zM59 83h26v26h-26zM190 109h26v26h-26zM1051 109h52v26h-52zM111 135h26v27h-26zM1051 135h52v27h-52zM137 162h27v26h-27zM216 162h26v26h-26zM137 188h27v26h-27zM59 214h26v26h-26zM216 214h26v26h-26zM242 240h52v26h-52zM0 266h33v26h-33zM1103 266h52v26h-52zM1103 292h52v26h-52zM1886 371h156v26h-156zM1886 397h156v26h-156zM1625 423h104v26h-104zM2460 423h52v26h-52zM3243 423h156v26h-156zM1625 449h104v26h-104zM2460 449h52v26h-52zM3243 449h156v26h-156zM111 475h26v27h-26zM398 475h27v27h-27zM451 475h52v27h-52zM659 475h26v27h-26zM712 475h26v27h-26zM2199 475h104v27h-104zM3295 475h52v27h-52zM137 502h27v26h-27zM216 502h52v26h-52zM712 502h26v26h-26zM2199 502h104v26h-104zM3295 502h52v26h-52zM503 528h26v26h-26zM894 528h52v26h-52zM2616 528h53v26h-53zM2721 528h52v26h-52zM2877 528h53v26h-53zM33 554h26v26h-26zM137 554h27v26h-27zM529 554h26v26h-26zM633 554h26v26h-26zM894 554h52v26h-52zM2616 554h53v26h-53zM2721 554h52v26h-52zM2877 554h53v26h-53zM451 580h26v26h-26zM712 580h26v26h-26zM2669 580h104v26h-104zM3347 580h52v26h-52zM529 606h26v26h-26zM2669 606h104v26h-104zM3347 606h52v26h-52zM372 632h53v26h-53zM0 658h33v27h-33zM190 737h26v26h-26zM1990 737h105v26h-105zM1990 763h105v26h-105zM0 789h33v26h-33zM59 789h52v26h-52zM2303 894h53v26h-53zM3034 894h52v26h-52zM2303 920h53v26h-53zM3034 920h52v26h-52zM2773 946h52v26h-52zM2773 972h52v26h-52zM2721 998h52v27h-52zM2721 1025h52v26h-52zM3060 1051h26v26h-26zM3060 1077h26v26h-26zM2590 1103h26v26h-26zM2721 1103h26v26h-26zM2904 1129h52v26h-52zM2747 1155h78v27h-78zM2590 1182h105v26h-105zM738 1208h52v26h-52zM2408 1208h52v26h-52zM2590 1208h26v26h-26zM2669 1208h26v26h-26zM2747 1208h52v26h-52zM738 1234h52v26h-52zM2590 1234h26v26h-26zM2773 1234h26v26h-26zM894 1260h52v26h-52zM2486 1260h52v26h-52zM2721 1260h26v26h-26zM894 1286h52v26h-52zM2616 1286h27v26h-27zM2721 1286h52v26h-52zM2695 1312h78v27h-78zM3817 1312h52v27h-52zM3817 1339h52v26h-52zM946 1365h53v26h-53zM946 1391h53v26h-53zM1207 1417h53v26h-53zM1207 1443h53v26h-53zM1207 1469h53v26h-53zM1207 1495h53v27h-53zM1573 1522h52v26h-52zM1573 1548h52v26h-52zM1233 1574h27v26h-27zM3869 1574h36v26h-36zM1547 1600h26v26h-26zM3869 1600h36v26h-36zM1207 1626h53v26h-53zM2356 1626h156v26h-156zM3034 1626h104v26h-104zM3347 1626h52v26h-52zM1260 1652h26v27h-26zM2356 1652h156v27h-156zM3034 1652h104v27h-104zM3347 1652h52v27h-52zM1025 1679h26v26h-26zM1207 1679h26v26h-26zM1260 1679h26v26h-26zM3347 1679h52v26h-52zM1077 1705h52v26h-52zM3347 1705h52v26h-52zM1260 1731h26v26h-26zM2721 1731h52v26h-52zM2982 1731h52v26h-52zM1025 1757h26v26h-26zM1077 1757h52v26h-52zM2721 1757h52v26h-52zM2982 1757h52v26h-52zM1051 1783h26v26h-26zM868 1835h26v27h-26zM1051 1914h26v26h-26zM712 1940h26v26h-26zM633 1992h26v27h-26zM685 1992h27v27h-27zM1886 1992h52v27h-52zM659 2019h53v26h-53zM1886 2019h52v26h-52zM1729 2045h52v26h-52zM1729 2071h52v26h-52zM111 2097h26v26h-26zM659 2097h26v26h-26zM1860 2097h52v26h-52zM607 2123h26v26h-26zM685 2123h27v26h-27zM1781 2123h27v26h-27zM1860 2123h52v26h-52zM607 2149h26v26h-26zM1834 2149h52v26h-52zM1755 2175h26v27h-26zM2956 2175h26v27h-26zM529 2202h26v26h-26zM3112 2202h52v26h-52zM633 2228h26v26h-26zM1651 2228h26v26h-26zM3034 2228h52v26h-52zM1521 2254h26v26h-26zM1573 2254h26v26h-26zM3060 2254h26v26h-26zM3138 2254h79v26h-79zM3295 2254h26v26h-26zM3686 2254h26v26h-26zM3869 2254h36v26h-36zM1521 2280h52v26h-52zM2225 2280h26v26h-26zM2982 2280h26v26h-26zM3060 2280h26v26h-26zM3791 2280h26v26h-26zM1338 2306h26v26h-26zM1547 2306h26v26h-26zM3086 2306h26v26h-26zM3138 2306h26v26h-26zM3686 2306h26v26h-26zM738 2332h26v27h-26zM1494 2332h27v27h-27zM2982 2332h52v27h-52zM3060 2332h26v27h-26zM3112 2332h26v27h-26zM3817 2332h26v27h-26zM555 2359h26v26h-26zM1468 2359h26v26h-26zM2147 2359h52v26h-52zM2695 2359h52v26h-52zM3086 2359h26v26h-26zM790 2385h26v26h-26zM1103 2385h26v26h-26zM1442 2385h26v26h-26zM2173 2385h26v26h-26zM2251 2385h105v26h-105zM581 2411h26v26h-26zM1181 2411h26v26h-26zM1338 2411h26v26h-26zM1442 2411h26v26h-26zM2643 2411h26v26h-26zM2930 2411h78v26h-78zM3843 2411h26v26h-26zM529 2437h26v26h-26zM581 2437h26v26h-26zM946 2437h27v26h-27zM1181 2437h26v26h-26zM1286 2437h26v26h-26zM3843 2437h26v26h-26zM529 2463h26v26h-26zM1129 2463h26v26h-26zM1312 2463h26v26h-26zM1390 2463h26v26h-26zM2721 2463h26v26h-26zM3060 2463h26v26h-26zM3478 2463h26v26h-26zM3608 2463h26v26h-26zM3765 2463h52v26h-52zM529 2489h78v26h-78zM1181 2489h26v26h-26zM3530 2489h26v26h-26zM3582 2489h26v26h-26zM1077 2515h26v27h-26zM1129 2515h52v27h-52zM1233 2515h53v27h-53zM2773 2515h26v27h-26zM2851 2515h26v27h-26zM2956 2515h26v27h-26zM3008 2515h52v27h-52zM1286 2542h26v26h-26zM1990 2542h26v26h-26zM2277 2542h52v26h-52zM2982 2542h26v26h-26zM3191 2542h26v26h-26zM1260 2568h26v26h-26zM1990 2568h26v26h-26zM2277 2568h26v26h-26zM2356 2568h26v26h-26zM2408 2568h26v26h-26zM2695 2568h26v26h-26zM2773 2568h26v26h-26zM2825 2568h26v26h-26zM3217 2568h26v26h-26zM3295 2568h26v26h-26zM1233 2594h53v26h-53zM2042 2594h27v26h-27zM2695 2594h26v26h-26zM2799 2594h26v26h-26zM3217 2594h26v26h-26zM3269 2594h26v26h-26zM1103 2620h26v26h-26zM1260 2620h52v26h-52zM3164 2620h27v26h-27z"/>
<path fill="#FF0000" d="M33 31h52v26h-52zM0 57h59v26h-59zM85 57h26v26h-26zM137 57h27v26h-27zM0 83h59v26h-59zM85 83h26v26h-26zM164 83h26v26h-26zM33 109h26v26h-26zM85 109h26v26h-26zM190 135h26v27h-26zM59 162h26v26h-26zM164 162h52v26h-52zM999 162h104v26h-104zM85 188h26v26h-26zM216 188h26v26h-26zM999 188h104v26h-104zM33 214h26v26h-26zM164 214h52v26h-52zM999 214h52v26h-52zM999 240h52v26h-52zM1155 266h105v26h-105zM33 292h26v26h-26zM1155 292h105v26h-105zM0 318h59v27h-59zM2512 423h52v26h-52zM2512 449h52v26h-52zM85 475h26v27h-26zM738 475h26v27h-26zM2303 475h53v27h-53zM3243 475h52v27h-52zM3399 475h53v27h-53zM581 502h104v26h-104zM2303 502h53v26h-53zM3243 502h52v26h-52zM3399 502h53v26h-53zM137 528h27v26h-27zM3399 528h53v26h-53zM372 554h53v26h-53zM477 554h26v26h-26zM607 554h26v26h-26zM659 554h26v26h-26zM3399 554h53v26h-53zM268 580h26v26h-26zM320 580h52v26h-52zM607 580h52v26h-52zM764 580h26v26h-26zM164 606h26v26h-26zM320 606h26v26h-26zM111 632h26v26h-26zM33 658h26v27h-26zM190 658h52v27h-52zM137 685h27v26h-27zM111 711h26v26h-26zM33 737h52v26h-52zM111 737h79v26h-79zM59 763h52v26h-52zM33 789h26v26h-26zM2356 894h104v26h-104zM3086 894h209v26h-209zM2356 920h104v26h-104zM3086 920h209v26h-209zM2825 946h157v26h-157zM3243 946h52v26h-52zM2825 972h157v26h-157zM3243 972h52v26h-52zM2773 998h104v27h-104zM2982 998h313v27h-313zM2773 1025h104v26h-104zM2982 1025h313v26h-313zM2643 1051h156v26h-156zM2851 1051h26v26h-26zM2982 1051h78v26h-78zM2616 1077h157v26h-157zM2851 1077h26v26h-26zM3008 1077h52v26h-52zM2616 1103h105v26h-105zM2747 1103h78v26h-78zM2904 1103h156v26h-156zM2564 1129h157v26h-157zM2747 1129h26v26h-26zM2799 1129h105v26h-105zM2564 1155h183v27h-183zM2538 1182h52v26h-52zM842 1208h52v26h-52zM2512 1208h52v26h-52zM842 1234h52v26h-52zM2434 1234h52v26h-52zM2512 1234h78v26h-78zM842 1260h52v26h-52zM842 1286h52v26h-52zM2773 1286h26v26h-26zM894 1312h52v27h-52zM894 1339h52v26h-52zM894 1365h52v26h-52zM894 1391h52v26h-52zM946 1417h53v26h-53zM1155 1417h52v26h-52zM946 1443h53v26h-53zM1155 1443h52v26h-52zM1416 1574h52v26h-52zM1390 1600h78v26h-78zM999 1652h52v27h-52zM1233 1652h27v27h-27zM999 1679h26v26h-26zM1233 1679h27v26h-27zM1103 1731h26v26h-26zM3034 1731h52v26h-52zM3034 1757h52v26h-52zM1025 1783h26v26h-26zM1025 1809h26v26h-26zM816 1888h26v26h-26zM1051 1888h26v26h-26zM790 1914h26v26h-26zM659 1966h53v26h-53zM659 1992h26v27h-26zM1834 2045h52v26h-52zM1834 2071h52v26h-52zM216 2097h26v26h-26zM294 2097h26v26h-26zM346 2097h26v26h-26zM1729 2097h79v26h-79zM2956 2149h26v26h-26zM1677 2175h26v27h-26zM3217 2175h26v27h-26zM659 2202h26v26h-26zM3164 2202h27v26h-27zM3243 2202h26v26h-26zM712 2228h26v26h-26zM1625 2228h26v26h-26zM2930 2228h26v26h-26zM3243 2228h52v26h-52zM1416 2254h78v26h-78zM1599 2254h26v26h-26zM1651 2254h26v26h-26zM2930 2254h26v26h-26zM3008 2254h52v26h-52zM3712 2254h27v26h-27zM3791 2254h78v26h-78zM685 2280h105v26h-105zM1390 2280h52v26h-52zM1494 2280h27v26h-27zM2930 2280h26v26h-26zM3008 2280h52v26h-52zM659 2306h26v26h-26zM738 2306h26v26h-26zM1442 2306h52v26h-52zM1521 2306h26v26h-26zM2904 2306h130v26h-130zM3112 2306h26v26h-26zM712 2332h26v27h-26zM1338 2332h26v27h-26zM1390 2332h52v27h-52zM1468 2332h26v27h-26zM2225 2332h26v27h-26zM2356 2332h26v27h-26zM2408 2332h26v27h-26zM2904 2332h26v27h-26zM2956 2332h26v27h-26zM3034 2332h26v27h-26zM3138 2332h26v27h-26zM607 2359h26v26h-26zM1129 2359h26v26h-26zM1416 2359h52v26h-52zM2199 2359h26v26h-26zM2930 2359h26v26h-26zM3008 2359h52v26h-52zM3712 2359h27v26h-27zM3791 2359h52v26h-52zM3895 2359h10v26h-10zM764 2385h26v26h-26zM1129 2385h52v26h-52zM1390 2385h52v26h-52zM2199 2385h26v26h-26zM2434 2385h26v26h-26zM2695 2385h26v26h-26zM3008 2385h78v26h-78zM3112 2385h26v26h-26zM3765 2385h78v26h-78zM3895 2385h10v26h-10zM685 2411h105v26h-105zM1129 2411h52v26h-52zM1390 2411h52v26h-52zM3008 2411h104v26h-104zM3582 2411h26v26h-26zM3712 2411h27v26h-27zM3765 2411h26v26h-26zM3869 2411h36v26h-36zM685 2437h53v26h-53zM1103 2437h78v26h-78zM1312 2437h130v26h-130zM3008 2437h52v26h-52zM3608 2437h52v26h-52zM3712 2437h79v26h-79zM3817 2437h26v26h-26zM3869 2437h26v26h-26zM1155 2463h52v26h-52zM1260 2463h52v26h-52zM1338 2463h52v26h-52zM3034 2463h26v26h-26zM3086 2463h52v26h-52zM3504 2463h104v26h-104zM3634 2463h105v26h-105zM1233 2489h53v26h-53zM2225 2489h52v26h-52zM2721 2489h26v26h-26zM2982 2489h26v26h-26zM3060 2489h26v26h-26zM3138 2489h26v26h-26zM3556 2489h26v26h-26zM1103 2515h26v27h-26zM2277 2515h26v27h-26zM2721 2515h52v27h-52zM2982 2515h26v27h-26zM3060 2515h26v27h-26zM3138 2515h26v27h-26zM529 2542h52v26h-52zM1051 2542h78v26h-78zM1207 2542h26v26h-26zM1260 2542h26v26h-26zM2695 2542h156v26h-156zM3008 2542h26v26h-26zM3086 2542h105v26h-105zM1077 2568h26v26h-26zM1181 2568h79v26h-79zM2303 2568h53v26h-53zM2434 2568h26v26h-26zM2669 2568h26v26h-26zM2799 2568h26v26h-26zM1051 2594h104v26h-104zM1181 2594h52v26h-52zM2303 2594h53v26h-53zM2382 2594h52v26h-52zM2669 2594h26v26h-26zM3243 2594h26v26h-26zM1077 2620h26v26h-26zM1129 2620h131v26h-131zM2329 2620h27v26h-27zM2408 2620h26v26h-26zM2512 2620h26v26h-26zM2773 2620h26v26h-26z"/>
<path fill="#C1232B" d="M0 0h33v31h-33zM0 31h33v26h-33zM111 57h26v26h-26zM111 83h53v26h-53zM0 109h33v26h-33zM111 109h79v26h-79zM137 135h53v27h-53zM33 162h26v26h-26zM33 266h26v26h-26zM0 292h33v26h-33zM0 475h33v27h-33zM0 502h59v26h-59zM33 528h26v26h-26zM2669 528h52v26h-52zM425 554h52v26h-52zM555 554h52v26h-52zM2669 554h52v26h-52zM294 580h26v26h-26zM398 580h53v26h-53zM738 580h26v26h-26zM190 606h130v26h-130zM137 632h105v26h-105zM59 658h131v27h-131zM0 685h137v26h-137zM0 711h111v26h-111zM0 737h33v26h-33zM85 737h26v26h-26zM0 763h59v26h-59zM2982 946h261v26h-261zM2982 972h261v26h-261zM2877 998h105v27h-105zM2877 1025h105v26h-105zM2799 1051h52v26h-52zM2877 1051h105v26h-105zM2773 1077h78v26h-78zM2877 1077h131v26h-131zM2825 1103h79v26h-79zM2721 1129h26v26h-26zM2773 1129h26v26h-26zM3295 1679h52v26h-52zM3295 1705h52v26h-52zM999 1731h26v26h-26zM2982 1783h104v26h-104zM2982 1809h104v26h-104zM607 1888h52v26h-52zM633 1914h26v26h-26zM633 1940h26v26h-26zM633 1966h26v26h-26zM1781 2045h53v26h-53zM294 2071h78v26h-78zM1781 2071h53v26h-53zM137 2097h79v26h-79zM320 2097h26v26h-26zM1651 2123h52v26h-52zM1729 2123h52v26h-52zM1625 2175h52v27h-52zM2877 2175h79v27h-79zM2982 2175h78v27h-78zM1625 2202h52v26h-52zM2904 2202h156v26h-156zM3191 2202h52v26h-52zM659 2228h53v26h-53zM2904 2228h26v26h-26zM2956 2228h78v26h-78zM3164 2228h79v26h-79zM659 2254h105v26h-105zM1494 2254h27v26h-27zM1625 2254h26v26h-26zM2904 2254h26v26h-26zM2956 2254h52v26h-52zM3739 2254h26v26h-26zM659 2280h26v26h-26zM1364 2280h26v26h-26zM1442 2280h52v26h-52zM2199 2280h26v26h-26zM2877 2280h53v26h-53zM2956 2280h26v26h-26zM3686 2280h79v26h-79zM3817 2280h88v26h-88zM633 2306h26v26h-26zM685 2306h53v26h-53zM1364 2306h78v26h-78zM1494 2306h27v26h-27zM2277 2306h79v26h-79zM2877 2306h27v26h-27zM3034 2306h52v26h-52zM3712 2306h53v26h-53zM633 2332h79v27h-79zM1364 2332h26v27h-26zM1442 2332h26v27h-26zM2251 2332h105v27h-105zM2930 2332h26v27h-26zM3739 2332h26v27h-26zM529 2359h26v26h-26zM633 2359h105v26h-105zM1364 2359h52v26h-52zM2225 2359h209v26h-209zM3739 2359h26v26h-26zM529 2385h26v26h-26zM685 2385h79v26h-79zM1364 2385h26v26h-26zM2382 2385h52v26h-52zM3086 2385h26v26h-26zM3686 2385h79v26h-79zM3843 2385h26v26h-26zM529 2411h26v26h-26zM1364 2411h26v26h-26zM2669 2411h26v26h-26zM3660 2411h52v26h-52zM3739 2411h26v26h-26zM3791 2411h52v26h-52zM659 2437h26v26h-26zM2904 2437h104v26h-104zM3582 2437h26v26h-26zM3660 2437h52v26h-52zM3791 2437h26v26h-26zM659 2463h26v26h-26zM2956 2463h78v26h-78zM3739 2463h26v26h-26zM2747 2489h78v26h-78zM3008 2489h26v26h-26zM3086 2489h52v26h-52zM555 2515h52v27h-52zM2799 2515h52v27h-52zM3086 2515h52v27h-52zM1129 2542h52v26h-52zM1233 2542h27v26h-27zM3034 2542h52v26h-52zM1051 2568h26v26h-26zM1103 2568h78v26h-78zM3164 2568h53v26h-53zM1155 2594h26v26h-26zM2356 2594h26v26h-26zM1051 2620h26v26h-26z"/>
</g>
<g fill="none" stroke="#808080" stroke-width="3" stroke-linejoin="round">
<polyline points="700,711 732,708 750,695 758,679 790,666 832,655 875,639 912,623 933,613 941,592 959,573 965,560 954,533 946,512 943,488 922,475 933,467 975,457 1017,449 1060,453 1047,428 1049,409 1070,375 1086,353 1123,361 1176,364 1216,359 1221,332 1216,306 1256,287 1282,277 1279,258 1287,253 1335,250 1340,263 1335,269 1367,285 1372,301 1404,311 1451,322 1472,338 1483,359 1504,380 1502,401 1488,428 1483,443 1499,459 1547,462 1626,467 1652,475 1684,496 1705,504 1732,507 1742,528 1758,560 1779,586 1827,586 1900,592"/>
<polyline points="1779,586 1769,607 1769,629 1732,639 1700,650 1689,671 1642,692 1605,703 1594,740 1602,771"/>
<polyline points="1602,771 1525,787 1457,808 1467,830 1488,851 1510,877 1494,893 1504,935 1467,930 1425,935 1383,920 1324,920 1261,930 1245,951 1187,957 1150,972 1086,967 1070,957 1017,962 949,972 922,994 875,1020 859,1050"/>
<polyline points="1827,586 1843,618 1864,660 1900,681"/>
<polyline points="1602,771 1668,766 1737,787 1785,808 1811,814 1814,771 1900,782"/>
<polyline points="701,711 705,715 699,698 690,696 661,705 657,711 642,716 613,726 605,746 587,764 605,779 594,794 616,805 627,801 657,809 661,835 664,853 672,864 653,875 639,877 642,884 687,894 698,901 712,908 720,923 716,934 727,945 746,945 757,956 790,967 827,967 825,982 838,1008 856,1017 875,1023"/>
<polyline points="875,1023 860,1037 860,1060 875,1078 886,1093 888,1119 875,1130 860,1115 845,1119 849,1141 860,1167 867,1181 878,1196 904,1200 926,1211 956,1226 985,1250"/>
<polyline points="993,1250 1004,1233 1030,1237 1044,1250"/>
<polyline points="1425,935 1433,962 1428,994 1435,1025 1441,1050"/>
<polyline points="1000,1232 1023,1232 1040,1246 1069,1258 1097,1275 1132,1292 1155,1310 1189,1321 1224,1338 1252,1350 1287,1361 1321,1361 1367,1355 1390,1355 1396,1396 1407,1373 1436,1347 1470,1353 1499,1361 1527,1361 1550,1384 1562,1413 1602,1413 1636,1410 1676,1384 1734,1350 1762,1344 1797,1355 1825,1367 1843,1332 1866,1338 1877,1355 1894,1344 1903,1373 1906,1401 1906,1447 1883,1476 1860,1499 1845,1516 1843,1545 1848,1567 1877,1573 1900,1590 1917,1613 1923,1642 1934,1665 1952,1682 1974,1700"/>
<polyline points="1436,1000 1433,1034 1447,1063 1487,1086 1545,1097 1602,1109 1659,1115 1694,1115 1711,1132 1734,1155 1768,1166 1791,1155 1825,1149 1843,1129 1871,1123 1888,1143 1906,1172 1911,1183 1900,1195 1911,1218 1917,1252 1923,1287 1911,1310 1900,1321 1894,1344"/>
<polyline points="1923,1287 1929,1321 1940,1344 1954,1315 1974,1327 1997,1355 2015,1378 2032,1401 2055,1424 2060,1453 2089,1459 2118,1447 2123,1413 2135,1396 2158,1390 2169,1373 2181,1355 2192,1332 2215,1327 2238,1321 2261,1310 2284,1298 2300,1287"/>
<polyline points="1843,1129 1837,1097 1831,1057 1848,1049 1894,1057 1917,1080 1946,1092 1974,1109 2003,1115 2032,1103 2060,1092 2078,1075 2066,1057 2089,1040 2078,1011 2072,1000"/>
<polyline points="2078,1075 2106,1029 2123,1034 2135,1046 2181,1057 2204,1086 2204,1109 2250,1115 2300,1097"/>
<polyline points="2300,1625 2317,1629 2313,1642 2326,1660 2339,1672 2365,1690 2395,1694 2421,1685 2446,1698 2472,1690 2481,1694 2489,1711 2485,1728 2494,1746 2489,1763 2507,1765 2515,1737 2515,1711 2524,1694 2541,1690 2567,1685 2593,1681 2619,1672 2644,1668 2666,1660 2679,1655 2696,1660 2713,1655 2726,1664 2726,1647 2748,1642 2773,1634 2795,1621 2817,1612 2842,1599 2860,1582 2877,1573 2890,1556 2903,1548 2920,1539 2937,1522 2946,1513 2959,1496 2971,1483 2984,1470 2989,1453 2989,1431 2997,1419 3010,1401 3032,1388 3049,1375 3070,1358 3088,1350 3101,1332 3109,1307 3113,1285 3118,1264 3109,1246 3096,1238 3088,1229 3101,1221 3118,1212 3131,1199 3135,1186 3131,1173 3122,1165 3109,1156 3101,1147 3105,1139 3109,1130"/>
<polyline points="3096,1509 3109,1500 3118,1513 3113,1539 3105,1573 3096,1608 3083,1638 3075,1660 3062,1677 3049,1672 3040,1651 3027,1625 3023,1608 3032,1573 3045,1548 3062,1526 3079,1513 3096,1509"/>
<polyline points="2700,470 2733,454 2772,443 2811,426 2833,407 2866,390 2910,382 2955,387 2988,382 3010,376 3007,354 2982,332 2944,318 2910,313 2877,316 2838,327 2794,327 2783,310 2800,282 2816,255 2833,232 2847,216 2879,228 2921,227 2949,210 2971,183 2977,144 3010,111 3021,61 3043,44 3076,33 3121,28 3187,22 3254,30 3298,44 3331,66 3359,100 3375,138 3397,177 3409,199 3420,221 3475,232 3519,249 3564,266 3580,293 3586,321 3641,321 3674,310 3724,299 3779,288 3804,291 3785,299 3768,316 3752,343 3741,387 3724,426 3707,454 3669,459 3641,454 3613,465 3597,476 3608,509 3608,548 3586,576 3569,598 3552,587 3530,598 3497,609 3475,625 3447,637 3414,653 3386,637 3353,664 3325,681 3309,692 3281,697 3248,720 3215,725 3187,731 3154,736 3121,742 3099,753 3087,764 3082,780 3099,786 3087,775 3082,753 3099,731 3121,709 3137,692 3132,681 3110,686 3087,692 3065,697 3043,714 3021,725 2999,736 2982,753 2966,764 2944,769 2921,786 2899,792 2883,797 2877,814 2888,830 2905,847 2921,852 2949,864 2977,864 3010,858 3032,847 3054,841 3087,841 3121,841 3143,847 3159,858 3148,875 3143,900"/>
<polyline points="3043,44 3076,50 3099,55 3132,77 3154,100 3170,133 3209,127 3254,122 3298,133 3331,155 3325,177 3298,199 3287,221 3276,249 3254,277 3248,304 3220,316 3198,321 3165,327 3148,338 3143,354"/>
<polyline points="3143,354 3165,376 3187,365 3198,382 3209,399 3226,415 3242,437 3270,448 3309,454 3342,459 3381,470 3397,482 3420,487 3453,498 3469,526 3486,542 3514,526 3541,520 3564,531 3586,554 3602,554"/>
<polyline points="3143,354 3126,387 3104,410 3121,432 3126,459 3126,487 3137,509 3170,498 3187,515 3198,542 3209,554 3231,554 3254,570 3276,587 3292,609 3298,637 3309,664 3320,681"/>
<polyline points="3209,554 3187,576 3165,581 3143,587 3121,592 3099,598 3065,609 3043,614 3021,625 3010,642 2999,664 2988,681 2977,697 2993,714"/>
<polyline points="2700,642 2733,620 2766,609 2811,609 2844,598 2877,592 2910,598 2932,609 2955,609 2977,609 2999,614 3021,625"/>
<polyline points="1827,584 1901,592 1987,589 2045,595 2073,604 2102,615 2131,624 2159,630 2205,632 2211,644 2234,647 2245,638 2302,621 2360,610 2417,604 2474,601 2503,592 2532,575 2560,552 2589,535 2578,518 2566,501 2578,472 2601,463 2646,466 2675,478 2704,472 2732,460 2761,449 2800,438"/>
<polyline points="1827,584 1844,621 1858,644 1850,661 1890,678 1936,683 1976,683 1984,701 1967,730 1970,741 1999,753 2039,776 2067,793 2102,776 2142,764 2182,759 2188,776 2171,799 2153,816 2148,839 2165,856 2199,862"/>
<polyline points="1900,783 1947,799 1981,822 2004,839 2027,850 2056,865 2102,867 2131,873 2159,885 2188,908 2216,931 2234,959 2245,1000"/>
<polyline points="2280,776 2325,776 2360,759 2394,747 2429,736 2474,741 2509,759 2532,753 2566,736 2589,724 2618,713 2646,701 2675,696 2704,690 2721,673 2715,644 2732,627 2761,632 2784,621 2800,610"/>
<polyline points="2555,753 2549,776 2532,804 2520,839 2526,873 2520,908 2526,942 2515,976 2520,1000"/>
<polyline points="2715,696 2704,730 2721,759 2704,787 2692,816 2704,845 2698,873 2687,902 2681,931 2664,948 2646,976 2652,1000"/>
<polyline points="2280,776 2274,799 2285,827 2291,850 2314,850 2343,839 2360,850 2354,873 2337,885 2325,908 2314,931 2302,959 2314,988 2325,1000"/>
<polyline points="2354,873 2371,902 2406,919 2417,942 2411,965 2394,988 2383,1000"/>
</g>
<g fill="#000">
<circle cx="717.5" cy="758.1" r="6.6"/>
<circle cx="726.9" cy="745.0" r="6.6"/>
<circle cx="922.6" cy="881.6" r="6.6"/>
<circle cx="940.4" cy="669.2" r="6.6"/>
<circle cx="1247.8" cy="638.3" r="6.6"/>
<circle cx="995.7" cy="525.3" r="6.6"/>
<circle cx="1034.8" cy="474.1" r="6.6"/>
<circle cx="1181.0" cy="437.5" r="6.6"/>
<circle cx="1307.8" cy="520.6" r="6.6"/>
<circle cx="1324.5" cy="530.6" r="6.6"/>
<circle cx="1406.4" cy="576.1" r="6.6"/>
<circle cx="1631.9" cy="582.4" r="6.6"/>
<circle cx="1390.2" cy="1291.7" r="6.6"/>
<circle cx="1507.7" cy="1271.8" r="6.6"/>
<circle cx="1541.1" cy="1293.3" r="6.6"/>
<circle cx="1563.5" cy="1300.6" r="6.6"/>
<circle cx="1667.9" cy="1270.8" r="6.6"/>
<circle cx="1676.2" cy="1275.5" r="6.6"/>
<circle cx="1833.3" cy="868.0" r="6.6"/>
<circle cx="1814.6" cy="1096.6" r="6.6"/>
<circle cx="2003.0" cy="925.0" r="6.6"/>
<circle cx="2063.5" cy="907.2" r="6.6"/>
<circle cx="2080.2" cy="913.5" r="6.6"/>
<circle cx="2076.0" cy="964.7" r="6.6"/>
<circle cx="1983.1" cy="1019.2" r="6.6"/>
<circle cx="2055.1" cy="867.5" r="6.6"/>
<circle cx="1881.4" cy="742.4" r="6.6"/>
<circle cx="1891.8" cy="744.5" r="6.6"/>
<circle cx="1994.1" cy="786.4" r="6.6"/>
<circle cx="2084.9" cy="807.8" r="6.6"/>
<circle cx="2108.4" cy="838.7" r="6.6"/>
<circle cx="2186.7" cy="910.9" r="6.6"/>
<circle cx="2170.5" cy="936.5" r="6.6"/>
<circle cx="2138.1" cy="960.6" r="6.6"/>
<circle cx="2102.1" cy="981.5" r="6.6"/>
<circle cx="2211.7" cy="961.6" r="6.6"/>
<circle cx="2269.1" cy="1013.9" r="6.6"/>
<circle cx="2318.7" cy="963.7" r="6.6"/>
<circle cx="2369.3" cy="954.8" r="6.6"/>
<circle cx="2270.2" cy="1057.9" r="6.6"/>
<circle cx="2303.6" cy="781.7" r="6.6"/>
<circle cx="2295.7" cy="809.4" r="6.6"/>
<circle cx="2294.2" cy="835.5" r="6.6"/>
<circle cx="2296.3" cy="938.6" r="6.6"/>
<circle cx="2326.5" cy="747.7" r="6.6"/>
<circle cx="2266.5" cy="791.6" r="6.6"/>
<circle cx="2356.3" cy="691.7" r="6.6"/>
<circle cx="2484.1" cy="695.9" r="6.6"/>
<circle cx="2491.5" cy="739.8" r="6.6"/>
<circle cx="2583.8" cy="686.5" r="6.6"/>
<circle cx="2655.9" cy="676.5" r="6.6"/>
<circle cx="2810.3" cy="524.8" r="6.6"/>
<circle cx="2956.5" cy="612.2" r="6.6"/>
<circle cx="3132.3" cy="541.0" r="6.6"/>
<circle cx="3122.4" cy="412.4" r="6.6"/>
<circle cx="3001.9" cy="248.6" r="6.6"/>
<circle cx="3229.4" cy="185.3" r="6.6"/>
<circle cx="3407.4" cy="194.2" r="6.6"/>
<circle cx="3219.0" cy="345.9" r="6.6"/>
<circle cx="3280.6" cy="385.7" r="6.6"/>
<circle cx="3379.2" cy="383.1" r="6.6"/>
<circle cx="3475.8" cy="326.0" r="6.6"/>
<circle cx="3552.0" cy="345.9" r="6.6"/>
<circle cx="3553.0" cy="374.7" r="6.6"/>
<circle cx="3596.8" cy="382.5" r="6.6"/>
<circle cx="3588.5" cy="428.6" r="6.6"/>
<circle cx="3586.9" cy="453.2" r="6.6"/>
<circle cx="3360.4" cy="429.6" r="6.6"/>
<circle cx="3517.0" cy="492.4" r="6.6"/>
<circle cx="3162.6" cy="436.4" r="6.6"/>
<circle cx="3292.1" cy="530.6" r="6.6"/>
<circle cx="3356.2" cy="529.5" r="6.6"/>
<circle cx="3241.4" cy="564.6" r="6.6"/>
<circle cx="3282.7" cy="579.2" r="6.6"/>
<circle cx="3510.7" cy="579.2" r="6.6"/>
<circle cx="3324.4" cy="639.9" r="6.6"/>
<circle cx="3349.5" cy="628.9" r="6.6"/>
<circle cx="3214.8" cy="610.6" r="6.6"/>
<circle cx="3193.4" cy="636.2" r="6.6"/>
<circle cx="3221.1" cy="632.1" r="6.6"/>
<circle cx="3179.8" cy="664.0" r="6.6"/>
<circle cx="3211.2" cy="662.9" r="6.6"/>
<circle cx="3170.4" cy="672.3" r="6.6"/>
<circle cx="3131.3" cy="695.4" r="6.6"/>
<circle cx="3122.4" cy="671.8" r="6.6"/>
<circle cx="3073.4" cy="672.9" r="6.6"/>
<circle cx="3101.6" cy="624.7" r="6.6"/>
<circle cx="3037.9" cy="648.3" r="6.6"/>
<circle cx="3058.2" cy="693.3" r="6.6"/>
<circle cx="3243.0" cy="723.6" r="6.6"/>
<circle cx="3098.4" cy="787.4" r="6.6"/>
<circle cx="2993.5" cy="734.1" r="6.6"/>
<circle cx="2826.5" cy="735.6" r="6.6"/>
<circle cx="2868.3" cy="775.9" r="6.6"/>
<circle cx="2842.2" cy="755.5" r="6.6"/>
<circle cx="2919.4" cy="749.8" r="6.6"/>
<circle cx="2907.9" cy="680.7" r="6.6"/>
<circle cx="2747.2" cy="690.1" r="6.6"/>
<circle cx="2777.5" cy="789.5" r="6.6"/>
<circle cx="2849.5" cy="819.3" r="6.6"/>
<circle cx="2727.9" cy="832.9" r="6.6"/>
<circle cx="2788.4" cy="848.6" r="6.6"/>
<circle cx="2727.4" cy="883.7" r="6.6"/>
<circle cx="2726.8" cy="907.7" r="6.6"/>
<circle cx="2664.7" cy="726.2" r="6.6"/>
<circle cx="2619.3" cy="765.4" r="6.6"/>
<circle cx="2635.0" cy="813.0" r="6.6"/>
<circle cx="2625.6" cy="841.8" r="6.6"/>
<circle cx="2633.9" cy="851.8" r="6.6"/>
<circle cx="2679.3" cy="842.3" r="6.6"/>
<circle cx="2552.0" cy="860.1" r="6.6"/>
<circle cx="2571.8" cy="934.9" r="6.6"/>
<circle cx="2655.3" cy="929.2" r="6.6"/>
<circle cx="2641.2" cy="966.3" r="6.6"/>
<circle cx="2544.7" cy="990.4" r="6.6"/>
<circle cx="2478.4" cy="819.9" r="6.6"/>
<circle cx="2465.9" cy="908.8" r="6.6"/>
<circle cx="2437.7" cy="997.2" r="6.6"/>
<circle cx="2466.9" cy="1018.1" r="6.6"/>
<circle cx="2348.5" cy="1025.4" r="6.6"/>
<circle cx="2425.2" cy="1027.0" r="6.6"/>
<circle cx="2437.2" cy="1030.1" r="6.6"/>
<circle cx="2489.4" cy="1051.1" r="6.6"/>
<circle cx="2337.0" cy="1092.9" r="6.6"/>
<circle cx="2441.9" cy="1112.8" r="6.6"/>
<circle cx="2721.6" cy="934.4" r="6.6"/>
<circle cx="2716.9" cy="952.7" r="6.6"/>
<circle cx="2755.0" cy="952.2" r="6.6"/>
<circle cx="2697.6" cy="976.3" r="6.6"/>
<circle cx="2661.6" cy="980.4" r="6.6"/>
<circle cx="2681.9" cy="1005.0" r="6.6"/>
<circle cx="2717.4" cy="1002.4" r="6.6"/>
<circle cx="2620.4" cy="1011.8" r="6.6"/>
<circle cx="2555.1" cy="1004.0" r="6.6"/>
<circle cx="2787.9" cy="1022.8" r="6.6"/>
<circle cx="2693.4" cy="1042.2" r="6.6"/>
<circle cx="2659.0" cy="1056.3" r="6.6"/>
<circle cx="2702.3" cy="1066.2" r="6.6"/>
<circle cx="2735.2" cy="1064.1" r="6.6"/>
<circle cx="2702.3" cy="1097.6" r="6.6"/>
<circle cx="2624.5" cy="1096.6" r="6.6"/>
<circle cx="2706.0" cy="1141.0" r="6.6"/>
<circle cx="2857.8" cy="905.6" r="6.6"/>
<circle cx="2805.1" cy="915.6" r="6.6"/>
<circle cx="2824.4" cy="864.3" r="6.6"/>
<circle cx="2908.5" cy="867.5" r="6.6"/>
<circle cx="2945.0" cy="864.8" r="6.6"/>
<circle cx="2912.6" cy="897.3" r="6.6"/>
<circle cx="2970.6" cy="902.5" r="6.6"/>
<circle cx="3090.1" cy="863.3" r="6.6"/>
<circle cx="3125.0" cy="860.7" r="6.6"/>
<circle cx="3034.2" cy="936.0" r="6.6"/>
<circle cx="2989.9" cy="970.0" r="6.6"/>
<circle cx="2928.8" cy="986.7" r="6.6"/>
<circle cx="2874.5" cy="1001.9" r="6.6"/>
<circle cx="2836.4" cy="970.5" r="6.6"/>
<circle cx="2862.5" cy="929.2" r="6.6"/>
<circle cx="2778.5" cy="979.9" r="6.6"/>
<circle cx="2872.4" cy="1033.8" r="6.6"/>
<circle cx="2973.7" cy="1012.9" r="6.6"/>
<circle cx="2963.3" cy="1065.2" r="6.6"/>
<circle cx="3022.8" cy="1078.3" r="6.6"/>
<circle cx="2983.6" cy="1128.5" r="6.6"/>
<circle cx="2985.7" cy="1138.4" r="6.6"/>
<circle cx="2951.8" cy="1145.7" r="6.6"/>
<circle cx="3012.8" cy="1158.8" r="6.6"/>
<circle cx="3030.6" cy="1175.6" r="6.6"/>
<circle cx="3044.7" cy="1185.5" r="6.6"/>
<circle cx="3060.8" cy="1149.9" r="6.6"/>
<circle cx="3091.1" cy="1189.2" r="6.6"/>
<circle cx="3019.1" cy="1206.9" r="6.6"/>
<circle cx="3054.1" cy="1214.3" r="6.6"/>
<circle cx="3022.8" cy="1239.4" r="6.6"/>
<circle cx="3044.7" cy="1253.5" r="6.6"/>
<circle cx="3095.3" cy="1260.3" r="6.6"/>
<circle cx="3129.7" cy="1254.0" r="6.6"/>
<circle cx="2955.4" cy="1308.9" r="6.6"/>
<circle cx="2996.1" cy="1301.6" r="6.6"/>
<circle cx="3010.2" cy="1333.5" r="6.6"/>
<circle cx="3073.9" cy="1313.1" r="6.6"/>
<circle cx="3050.9" cy="1358.1" r="6.6"/>
<circle cx="2847.4" cy="1046.4" r="6.6"/>
<circle cx="2856.8" cy="1063.6" r="6.6"/>
<circle cx="2794.2" cy="1052.1" r="6.6"/>
<circle cx="2795.7" cy="1102.3" r="6.6"/>
<circle cx="2878.2" cy="1100.8" r="6.6"/>
<circle cx="2857.8" cy="1115.9" r="6.6"/>
<circle cx="2926.7" cy="1133.2" r="6.6"/>
<circle cx="2832.8" cy="1163.0" r="6.6"/>
<circle cx="2869.8" cy="1158.3" r="6.6"/>
<circle cx="2903.2" cy="1169.8" r="6.6"/>
<circle cx="2936.6" cy="1166.1" r="6.6"/>
<circle cx="2929.9" cy="1183.9" r="6.6"/>
<circle cx="2949.7" cy="1204.3" r="6.6"/>
<circle cx="2883.4" cy="1219.0" r="6.6"/>
<circle cx="2861.0" cy="1226.3" r="6.6"/>
<circle cx="2927.8" cy="1268.7" r="6.6"/>
<circle cx="2534.3" cy="1115.9" r="6.6"/>
<circle cx="2604.2" cy="1146.8" r="6.6"/>
<circle cx="2607.3" cy="1199.1" r="6.6"/>
<circle cx="2559.8" cy="1217.4" r="6.6"/>
<circle cx="2465.9" cy="1239.4" r="6.6"/>
<circle cx="2697.1" cy="1205.4" r="6.6"/>
<circle cx="2716.9" cy="1222.6" r="6.6"/>
<circle cx="2747.7" cy="1233.1" r="6.6"/>
<circle cx="2746.7" cy="1230.0" r="6.6"/>
<circle cx="2755.5" cy="1243.0" r="6.6"/>
<circle cx="2718.0" cy="1261.9" r="6.6"/>
<circle cx="2609.4" cy="1236.8" r="6.6"/>
<circle cx="2606.8" cy="1235.2" r="6.6"/>
<circle cx="2655.9" cy="1287.0" r="6.6"/>
<circle cx="2581.2" cy="1304.2" r="6.6"/>
<circle cx="2517.6" cy="1299.5" r="6.6"/>
<circle cx="2615.7" cy="1329.3" r="6.6"/>
<circle cx="2645.9" cy="1346.1" r="6.6"/>
<circle cx="2645.9" cy="1367.0" r="6.6"/>
<circle cx="2655.9" cy="1367.0" r="6.6"/>
<circle cx="2596.9" cy="1373.8" r="6.6"/>
<circle cx="2569.2" cy="1397.9" r="6.6"/>
<circle cx="2626.6" cy="1416.2" r="6.6"/>
<circle cx="2576.5" cy="1440.8" r="6.6"/>
<circle cx="2649.6" cy="1474.8" r="6.6"/>
<circle cx="2478.9" cy="1341.9" r="6.6"/>
<circle cx="2492.5" cy="1380.6" r="6.6"/>
<circle cx="2805.6" cy="1268.7" r="6.6"/>
<circle cx="2867.2" cy="1291.7" r="6.6"/>
<circle cx="2798.3" cy="1322.5" r="6.6"/>
<circle cx="2906.9" cy="1334.6" r="6.6"/>
<circle cx="2861.5" cy="1344.5" r="6.6"/>
<circle cx="2824.4" cy="1360.7" r="6.6"/>
<circle cx="2723.2" cy="1367.5" r="6.6"/>
<circle cx="2749.3" cy="1367.5" r="6.6"/>
<circle cx="2693.4" cy="1378.0" r="6.6"/>
<circle cx="2752.9" cy="1404.7" r="6.6"/>
<circle cx="2749.8" cy="1471.6" r="6.6"/>
<circle cx="2919.4" cy="1429.3" r="6.6"/>
<circle cx="2891.2" cy="1449.1" r="6.6"/>
<circle cx="2990.9" cy="1427.7" r="6.6"/>
<circle cx="2977.9" cy="1458.6" r="6.6"/>
<circle cx="2962.7" cy="1491.5" r="6.6"/>
<circle cx="2945.5" cy="1521.9" r="6.6"/>
<circle cx="2914.7" cy="1542.3" r="6.6"/>
<circle cx="2891.8" cy="1540.7" r="6.6"/>
<circle cx="2858.9" cy="1510.9" r="6.6"/>
<circle cx="2811.9" cy="1552.2" r="6.6"/>
<circle cx="2841.1" cy="1601.4" r="6.6"/>
<circle cx="2773.3" cy="1630.7" r="6.6"/>
<circle cx="2680.4" cy="1525.0" r="6.6"/>
<circle cx="2652.2" cy="1584.1" r="6.6"/>
<circle cx="2737.8" cy="1581.0" r="6.6"/>
<circle cx="2662.6" cy="1612.9" r="6.6"/>
<circle cx="2655.3" cy="1618.6" r="6.6"/>
<circle cx="2621.4" cy="1617.1" r="6.6"/>
<circle cx="2688.2" cy="1618.6" r="6.6"/>
<circle cx="2723.2" cy="1613.9" r="6.6"/>
<circle cx="2653.2" cy="1641.6" r="6.6"/>
<circle cx="2669.4" cy="1644.8" r="6.6"/>
<circle cx="2704.4" cy="1643.7" r="6.6"/>
<circle cx="2679.3" cy="1657.9" r="6.6"/>
<circle cx="2677.3" cy="1661.5" r="6.6"/>
<circle cx="2710.1" cy="1655.2" r="6.6"/>
<circle cx="2595.8" cy="1679.3" r="6.6"/>
<circle cx="2541.0" cy="1689.8" r="6.6"/>
<circle cx="2511.3" cy="1710.2" r="6.6"/>
<circle cx="2559.3" cy="1594.6" r="6.6"/>
<circle cx="2507.6" cy="1500.9" r="6.6"/>
<circle cx="2461.7" cy="1550.1" r="6.6"/>
<circle cx="2391.3" cy="1531.3" r="6.6"/>
<circle cx="2316.1" cy="1572.6" r="6.6"/>
<circle cx="2407.4" cy="1629.1" r="6.6"/>
<circle cx="2500.9" cy="1639.0" r="6.6"/>
<circle cx="2422.0" cy="1673.0" r="6.6"/>
<circle cx="2446.6" cy="1699.2" r="6.6"/>
<circle cx="2509.7" cy="1775.0" r="6.6"/>
<circle cx="2466.9" cy="1868.1" r="6.6"/>
<circle cx="2086.5" cy="1154.1" r="6.6"/>
<circle cx="2214.8" cy="1176.6" r="6.6"/>
<circle cx="2200.2" cy="1194.4" r="6.6"/>
<circle cx="2183.0" cy="1218.5" r="6.6"/>
<circle cx="2262.3" cy="1225.8" r="6.6"/>
<circle cx="2287.9" cy="1211.7" r="6.6"/>
<circle cx="2275.4" cy="1125.9" r="6.6"/>
<circle cx="2360.5" cy="1190.2" r="6.6"/>
<circle cx="2072.9" cy="1250.9" r="6.6"/>
<circle cx="2127.2" cy="1254.5" r="6.6"/>
<circle cx="2166.8" cy="1277.0" r="6.6"/>
<circle cx="2220.1" cy="1288.0" r="6.6"/>
<circle cx="2234.7" cy="1275.5" r="6.6"/>
<circle cx="2212.8" cy="1318.9" r="6.6"/>
<circle cx="2254.5" cy="1312.6" r="6.6"/>
<circle cx="2088.5" cy="1363.9" r="6.6"/>
<circle cx="2060.4" cy="1432.4" r="6.6"/>
<circle cx="2312.4" cy="1276.5" r="6.6"/>
<circle cx="2428.3" cy="1278.1" r="6.6"/>
<circle cx="2332.3" cy="1373.8" r="6.6"/>
<circle cx="2246.7" cy="1394.7" r="6.6"/>
<circle cx="2222.7" cy="1431.9" r="6.6"/>
<circle cx="2316.6" cy="1428.7" r="6.6"/>
<circle cx="2280.1" cy="1449.7" r="6.6"/>
<circle cx="2387.1" cy="1432.4" r="6.6"/>
<circle cx="2363.1" cy="1449.1" r="6.6"/>
<circle cx="2450.2" cy="1372.8" r="6.6"/>
<circle cx="2226.3" cy="1510.3" r="6.6"/>
<circle cx="2164.7" cy="1392.6" r="6.6"/>
<circle cx="1954.9" cy="1367.0" r="6.6"/>
<circle cx="1982.6" cy="1417.2" r="6.6"/>
<circle cx="1910.6" cy="1470.6" r="6.6"/>
<circle cx="1982.6" cy="1484.2" r="6.6"/>
<circle cx="1926.8" cy="1509.3" r="6.6"/>
<circle cx="2050.5" cy="1513.0" r="6.6"/>
<circle cx="2118.3" cy="1521.3" r="6.6"/>
<circle cx="2168.9" cy="1489.4" r="6.6"/>
<circle cx="2137.1" cy="1458.6" r="6.6"/>
<circle cx="2103.2" cy="1549.1" r="6.6"/>
<circle cx="1896.5" cy="1544.9" r="6.6"/>
<circle cx="1975.3" cy="1573.6" r="6.6"/>
<circle cx="2021.2" cy="1630.7" r="6.6"/>
<circle cx="2012.4" cy="1671.5" r="6.6"/>
<circle cx="2135.5" cy="1600.8" r="6.6"/>
<circle cx="2191.9" cy="1600.3" r="6.6"/>
<circle cx="3095.8" cy="1513.0" r="6.6"/>
<circle cx="3105.2" cy="1508.2" r="6.6"/>
<circle cx="3049.9" cy="1560.0" r="6.6"/>
<circle cx="3025.4" cy="1620.2" r="6.6"/>
<circle cx="3030.6" cy="1639.5" r="6.6"/>
<circle cx="932.0" cy="1122.7" r="6.6"/>
<circle cx="1555.7" cy="1176.1" r="6.6"/>
<circle cx="1822.9" cy="1193.9" r="6.6"/>
</g><g class="cl">
<text x="722.5" y="753.1">喀什</text>
<text x="927.6" y="876.6">和田</text>
<text x="945.4" y="664.2">阿克苏</text>
<text x="1252.8" y="633.3">库尔勒</text>
<text x="1000.7" y="520.3">伊宁</text>
<text x="1039.8" y="469.1">博乐</text>
<text x="1186.0" y="432.5">克拉玛依</text>
<text x="1312.8" y="515.6">昌吉</text>
<text x="1329.5" y="525.6">乌鲁木齐</text>
<text x="1411.4" y="571.1">吐鲁番</text>
<text x="1636.9" y="577.4">哈密</text>
<text x="1395.2" y="1286.7">日喀则</text>
<text x="1512.7" y="1266.8">拉萨</text>
<text x="1546.1" y="1288.3">泽当镇</text>
<text x="1568.5" y="1295.6">乃东</text>
<text x="1672.9" y="1265.8">八一镇</text>
<text x="1681.2" y="1270.5">林芝</text>
<text x="1838.3" y="863.0">德令哈</text>
<text x="1819.6" y="1091.6">玉树</text>
<text x="2008.0" y="920.0">共和</text>
<text x="2068.5" y="902.2">西宁</text>
<text x="2085.2" y="908.5">平安</text>
<text x="2081.0" y="959.7">同仁</text>
<text x="1988.1" y="1014.2">玛沁</text>
<text x="2060.1" y="862.5">门源回族自治县</text>
<text x="1886.4" y="737.4">嘉峪关</text>
<text x="1896.8" y="739.5">酒泉</text>
<text x="1999.1" y="781.4">张掖</text>
<text x="2089.9" y="802.8">金昌</text>
<text x="2113.4" y="833.7">武威</text>
<text x="2191.7" y="905.9">白银</text>
<text x="2175.5" y="931.5">兰州</text>
<text x="2143.1" y="955.6">临夏</text>
<text x="2107.1" y="976.5">夏河</text>
<text x="2216.7" y="956.6">定西</text>
<text x="2274.1" y="1008.9">天水</text>
<text x="2323.7" y="958.7">平凉</text>
<text x="2374.3" y="949.8">西峰</text>
<text x="2275.2" y="1052.9">成县</text>
<text x="2308.6" y="776.7">石嘴山</text>
<text x="2300.7" y="804.4">银川</text>
<text x="2299.2" y="830.5">吴忠</text>
<text x="2301.3" y="933.6">固原</text>
<text x="2331.5" y="742.7">乌海</text>
<text x="2271.5" y="786.6">阿拉善左旗</text>
<text x="2361.3" y="686.7">临河</text>
<text x="2489.1" y="690.9">包头</text>
<text x="2496.5" y="734.8">东胜</text>
<text x="2588.8" y="681.5">呼和浩特</text>
<text x="2660.9" y="671.5">集宁</text>
<text x="2815.3" y="519.8">锡林浩特</text>
<text x="2961.5" y="607.2">赤峰</text>
<text x="3137.3" y="536.0">通辽</text>
<text x="3127.4" y="407.4">乌兰浩特</text>
<text x="3006.9" y="243.6">海拉尔</text>
<text x="3234.4" y="180.3">加格达奇</text>
<text x="3412.4" y="189.2">黑河</text>
<text x="3224.0" y="340.9">齐齐哈尔</text>
<text x="3285.6" y="380.7">大庆</text>
<text x="3384.2" y="378.1">绥化</text>
<text x="3480.8" y="321.0">伊春</text>
<text x="3557.0" y="340.9">鹤岗</text>
<text x="3558.0" y="369.7">佳木斯</text>
<text x="3601.8" y="377.5">双鸭山</text>
<text x="3593.5" y="423.6">七台河</text>
<text x="3591.9" y="448.2">鸡西</text>
<text x="3365.4" y="424.6">哈尔滨</text>
<text x="3522.0" y="487.4">牡丹江</text>
<text x="3167.6" y="431.4">白城</text>
<text x="3297.1" y="525.6">长春</text>
<text x="3361.2" y="524.5">吉林</text>
<text x="3246.4" y="559.6">四平</text>
<text x="3287.7" y="574.2">辽源</text>
<text x="3515.7" y="574.2">延吉</text>
<text x="3329.4" y="634.9">通化</text>
<text x="3219.8" y="605.6">铁岭</text>
<text x="3198.4" y="631.2">沈阳</text>
<text x="3226.1" y="627.1">抚顺</text>
<text x="3184.8" y="659.0">辽阳</text>
<text x="3216.2" y="657.9">本溪</text>
<text x="3175.4" y="667.3">鞍山</text>
<text x="3136.3" y="690.4">营口</text>
<text x="3127.4" y="666.8">盘锦</text>
<text x="3078.4" y="667.9">锦州</text>
<text x="3106.6" y="619.7">阜新</text>
<text x="3042.9" y="643.3">朝阳</text>
<text x="3063.2" y="688.3">锦西</text>
<text x="3248.0" y="718.6">丹东</text>
<text x="3103.4" y="782.4">大连</text>
<text x="2998.5" y="729.1">秦皇岛</text>
<text x="2831.5" y="730.6">北京</text>
<text x="2873.3" y="770.9">天津</text>
<text x="2847.2" y="750.5">廊坊</text>
<text x="2924.4" y="744.8">唐山</text>
<text x="2912.9" y="675.7">承德</text>
<text x="2752.2" y="685.1">张家口</text>
<text x="2782.5" y="784.5">保定</text>
<text x="2854.5" y="814.3">沧州</text>
<text x="2732.9" y="827.9">石家庄</text>
<text x="2793.4" y="843.6">衡水</text>
<text x="2732.4" y="878.7">邢台</text>
<text x="2731.8" y="902.7">邯郸</text>
<text x="2669.7" y="721.2">大同</text>
<text x="2624.3" y="760.4">朔州</text>
<text x="2640.0" y="808.0">忻州</text>
<text x="2630.6" y="836.8">太原</text>
<text x="2638.9" y="846.8">榆次</text>
<text x="2684.3" y="837.3">阳泉</text>
<text x="2557.0" y="855.1">离石</text>
<text x="2576.8" y="929.9">临汾</text>
<text x="2660.3" y="924.2">长治</text>
<text x="2646.2" y="961.3">晋城</text>
<text x="2549.7" y="985.4">运城</text>
<text x="2483.4" y="814.9">榆林</text>
<text x="2470.9" y="903.8">延安</text>
<text x="2442.7" y="992.2">铜川</text>
<text x="2471.9" y="1013.1">渭南</text>
<text x="2353.5" y="1020.4">宝鸡</text>
<text x="2430.2" y="1022.0">咸阳</text>
<text x="2442.2" y="1025.1">西安</text>
<text x="2494.4" y="1046.1">商州</text>
<text x="2342.0" y="1087.9">汉中</text>
<text x="2446.9" y="1107.8">安康</text>
<text x="2726.6" y="929.4">安阳</text>
<text x="2721.9" y="947.7">鹤壁</text>
<text x="2760.0" y="947.2">濮阳</text>
<text x="2702.6" y="971.3">新乡</text>
<text x="2666.6" y="975.4">焦作</text>
<text x="2686.9" y="1000.0">郑州</text>
<text x="2722.4" y="997.4">开封</text>
<text x="2625.4" y="1006.8">洛阳</text>
<text x="2560.1" y="999.0">三门峡</text>
<text x="2792.9" y="1017.8">商丘</text>
<text x="2698.4" y="1037.2">许昌</text>
<text x="2664.0" y="1051.3">平顶山</text>
<text x="2707.3" y="1061.2">漯河</text>
<text x="2740.2" y="1059.1">周口</text>
<text x="2707.3" y="1092.6">驻马店</text>
<text x="2629.5" y="1091.6">南阳</text>
<text x="2711.0" y="1136.0">信阳</text>
<text x="2862.8" y="900.6">济南</text>
<text x="2810.1" y="910.6">聊城</text>
<text x="2829.4" y="859.3">德州</text>
<text x="2913.5" y="862.5">滨州</text>
<text x="2950.0" y="859.8">东营</text>
<text x="2917.6" y="892.3">淄博</text>
<text x="2975.6" y="897.5">潍坊</text>
<text x="3095.1" y="858.3">烟台</text>
<text x="3130.0" y="855.7">威海</text>
<text x="3039.2" y="931.0">青岛</text>
<text x="2994.9" y="965.0">日照</text>
<text x="2933.8" y="981.7">临沂</text>
<text x="2879.5" y="996.9">枣庄</text>
<text x="2841.4" y="965.5">济宁</text>
<text x="2867.5" y="924.2">泰安</text>
<text x="2783.5" y="974.9">菏泽</text>
<text x="2877.4" y="1028.8">徐州</text>
<text x="2978.7" y="1007.9">连云港</text>
<text x="2968.3" y="1060.2">淮阴</text>
<text x="3027.8" y="1073.3">盐城</text>
<text x="2988.6" y="1123.5">扬州</text>
<text x="2990.7" y="1133.4">镇江</text>
<text x="2956.8" y="1140.7">南京</text>
<text x="3017.8" y="1153.8">常州</text>
<text x="3035.6" y="1170.6">无锡</text>
<text x="3049.7" y="1180.5">苏州</text>
<text x="3065.8" y="1144.9">南通</text>
<text x="3096.1" y="1184.2">上海</text>
<text x="3024.1" y="1201.9">湖州</text>
<text x="3059.1" y="1209.3">嘉兴</text>
<text x="3027.8" y="1234.4">杭州</text>
<text x="3049.7" y="1248.5">绍兴</text>
<text x="3100.3" y="1255.3">宁波</text>
<text x="3134.7" y="1249.0">舟山</text>
<text x="2960.4" y="1303.9">衢州</text>
<text x="3001.1" y="1296.6">金华</text>
<text x="3015.2" y="1328.5">丽水</text>
<text x="3078.9" y="1308.1">临海</text>
<text x="3055.9" y="1353.1">温州</text>
<text x="2852.4" y="1041.4">淮北</text>
<text x="2861.8" y="1058.6">宿州</text>
<text x="2799.2" y="1047.1">亳州</text>
<text x="2800.7" y="1097.3">阜阳</text>
<text x="2883.2" y="1095.8">蚌埠</text>
<text x="2862.8" y="1110.9">淮南</text>
<text x="2931.7" y="1128.2">滁州</text>
<text x="2837.8" y="1158.0">六安</text>
<text x="2874.8" y="1153.3">合肥</text>
<text x="2908.2" y="1164.8">巢湖</text>
<text x="2941.6" y="1161.1">马鞍山</text>
<text x="2934.9" y="1178.9">芜湖</text>
<text x="2954.7" y="1199.3">宣州</text>
<text x="2888.4" y="1214.0">贵池</text>
<text x="2866.0" y="1221.3">安庆</text>
<text x="2932.8" y="1263.7">黄山</text>
<text x="2539.3" y="1110.9">十堰</text>
<text x="2609.2" y="1141.8">襄樊</text>
<text x="2612.3" y="1194.1">荆门</text>
<text x="2564.8" y="1212.4">宜昌</text>
<text x="2470.9" y="1234.4">恩施</text>
<text x="2702.1" y="1200.4">孝感</text>
<text x="2721.9" y="1217.6">武汉</text>
<text x="2752.7" y="1228.1">鄂州</text>
<text x="2751.7" y="1225.0">黄州</text>
<text x="2760.5" y="1238.0">黄石</text>
<text x="2723.0" y="1256.9">咸宁</text>
<text x="2614.4" y="1231.8">沙市</text>
<text x="2611.8" y="1230.2">江陵</text>
<text x="2660.9" y="1282.0">岳阳</text>
<text x="2586.2" y="1299.2">常德</text>
<text x="2522.6" y="1294.5">大庸</text>
<text x="2620.7" y="1324.3">益阳</text>
<text x="2650.9" y="1341.1">长沙</text>
<text x="2650.9" y="1362.0">湘潭</text>
<text x="2660.9" y="1362.0">株洲</text>
<text x="2601.9" y="1368.8">娄底</text>
<text x="2574.2" y="1392.9">邵阳</text>
<text x="2631.6" y="1411.2">衡阳</text>
<text x="2581.5" y="1435.8">永州</text>
<text x="2654.6" y="1469.8">郴州</text>
<text x="2483.9" y="1336.9">吉首</text>
<text x="2497.5" y="1375.6">怀化</text>
<text x="2810.6" y="1263.7">九江</text>
<text x="2872.2" y="1286.7">景德镇</text>
<text x="2803.3" y="1317.5">南昌</text>
<text x="2911.9" y="1329.6">上饶</text>
<text x="2866.5" y="1339.5">鹰潭</text>
<text x="2829.4" y="1355.7">临川</text>
<text x="2728.2" y="1362.5">宜春</text>
<text x="2754.3" y="1362.5">新余</text>
<text x="2698.4" y="1373.0">萍乡</text>
<text x="2757.9" y="1399.7">吉安</text>
<text x="2754.8" y="1466.6">赣州</text>
<text x="2924.4" y="1424.3">南平</text>
<text x="2896.2" y="1444.1">三明</text>
<text x="2995.9" y="1422.7">宁德</text>
<text x="2982.9" y="1453.6">福州</text>
<text x="2967.7" y="1486.5">莆田</text>
<text x="2950.5" y="1516.9">泉州</text>
<text x="2919.7" y="1537.3">厦门</text>
<text x="2896.8" y="1535.7">漳州</text>
<text x="2863.9" y="1505.9">龙岩</text>
<text x="2816.9" y="1547.2">梅州</text>
<text x="2846.1" y="1596.4">汕头</text>
<text x="2778.3" y="1625.7">汕尾</text>
<text x="2685.4" y="1520.0">韶关</text>
<text x="2657.2" y="1579.1">清远</text>
<text x="2742.8" y="1576.0">河源</text>
<text x="2667.6" y="1607.9">广州</text>
<text x="2660.3" y="1613.6">佛山</text>
<text x="2626.4" y="1612.1">肇庆</text>
<text x="2693.2" y="1613.6">东莞</text>
<text x="2728.2" y="1608.9">惠州</text>
<text x="2658.2" y="1636.6">江门</text>
<text x="2674.4" y="1639.8">中山</text>
<text x="2709.4" y="1638.7">深圳</text>
<text x="2684.3" y="1652.9">珠海</text>
<text x="2682.3" y="1656.5">澳门</text>
<text x="2715.1" y="1650.2">香港</text>
<text x="2600.8" y="1674.3">阳江</text>
<text x="2546.0" y="1684.8">茂名</text>
<text x="2516.3" y="1705.2">湛江</text>
<text x="2564.3" y="1589.6">梧州</text>
<text x="2512.6" y="1495.9">桂林</text>
<text x="2466.7" y="1545.1">柳州</text>
<text x="2396.3" y="1526.3">河池</text>
<text x="2321.1" y="1567.6">百色</text>
<text x="2412.4" y="1624.1">南宁</text>
<text x="2505.9" y="1634.0">玉林</text>
<text x="2427.0" y="1668.0">钦州</text>
<text x="2451.6" y="1694.2">北海</text>
<text x="2514.7" y="1770.0">海口</text>
<text x="2471.9" y="1863.1">三亚</text>
<text x="2091.5" y="1149.1">马尔康</text>
<text x="2219.8" y="1171.6">绵阳</text>
<text x="2205.2" y="1189.4">德阳</text>
<text x="2188.0" y="1213.5">成都</text>
<text x="2267.3" y="1220.8">遂宁</text>
<text x="2292.9" y="1206.7">南充</text>
<text x="2280.4" y="1120.9">广元</text>
<text x="2365.5" y="1185.2">达县</text>
<text x="2077.9" y="1245.9">康定</text>
<text x="2132.2" y="1249.5">雅安</text>
<text x="2171.8" y="1272.0">乐山</text>
<text x="2225.1" y="1283.0">自贡</text>
<text x="2239.7" y="1270.5">内江</text>
<text x="2217.8" y="1313.9">宜宾</text>
<text x="2259.5" y="1307.6">泸州</text>
<text x="2093.5" y="1358.9">西昌</text>
<text x="2065.4" y="1427.4">攀枝花</text>
<text x="2317.4" y="1271.5">重庆</text>
<text x="2433.3" y="1273.1">黔江土家族苗族自治县</text>
<text x="2337.3" y="1368.8">遵义</text>
<text x="2251.7" y="1389.7">毕节</text>
<text x="2227.7" y="1426.9">六盘水</text>
<text x="2321.6" y="1423.7">贵阳</text>
<text x="2285.1" y="1444.7">安顺</text>
<text x="2392.1" y="1427.4">凯里</text>
<text x="2368.1" y="1444.1">都匀</text>
<text x="2455.2" y="1367.8">铜仁</text>
<text x="2231.3" y="1505.3">兴义</text>
<text x="2169.7" y="1387.6">昭通</text>
<text x="1959.9" y="1362.0">中甸</text>
<text x="1987.6" y="1412.2">丽江纳西族自治县</text>
<text x="1915.6" y="1465.6">泸水</text>
<text x="1987.6" y="1479.2">大理</text>
<text x="1931.8" y="1504.3">保山</text>
<text x="2055.5" y="1508.0">楚雄</text>
<text x="2123.3" y="1516.3">昆明</text>
<text x="2173.9" y="1484.4">曲靖</text>
<text x="2142.1" y="1453.6">东川</text>
<text x="2108.2" y="1544.1">玉溪</text>
<text x="1901.5" y="1539.9">潞西</text>
<text x="1980.3" y="1568.6">临沧</text>
<text x="2026.2" y="1625.7">思茅</text>
<text x="2017.4" y="1666.5">景洪</text>
<text x="2140.5" y="1595.8">个旧</text>
<text x="2196.9" y="1595.3">文山</text>
<text x="3100.8" y="1508.0">台北</text>
<text x="3110.2" y="1503.2">基隆</text>
<text x="3054.9" y="1555.0">台中</text>
<text x="3030.4" y="1615.2">台南</text>
<text x="3035.6" y="1634.5">高雄</text>
<text x="904.0" y="1117.7">噶尔噶尔</text>
<text x="1527.7" y="1171.1">那曲那曲</text>
<text x="1794.9" y="1188.9">昌都昌都</text>
</g>
<g shape-rendering="crispEdges">
<rect x="1663.5" y="2708.5" width="65.9" height="32" fill="#FFFFE5" stroke="#8a8a8a" stroke-width="1"/>
<rect x="1729.4" y="2708.5" width="65.9" height="32" fill="#FFFFCC" stroke="#8a8a8a" stroke-width="1"/>
<rect x="1795.4" y="2708.5" width="65.9" height="32" fill="#FFFF99" stroke="#8a8a8a" stroke-width="1"/>
<rect x="1861.3" y="2708.5" width="65.9" height="32" fill="#FFE366" stroke="#8a8a8a" stroke-width="1"/>
<rect x="1927.3" y="2708.5" width="65.9" height="32" fill="#FFCC00" stroke="#8a8a8a" stroke-width="1"/>
<rect x="1993.2" y="2708.5" width="65.9" height="32" fill="#FF9900" stroke="#8a8a8a" stroke-width="1"/>
<rect x="2059.1" y="2708.5" width="65.9" height="32" fill="#FF6600" stroke="#8a8a8a" stroke-width="1"/>
<rect x="2125.1" y="2708.5" width="65.9" height="32" fill="#FF0000" stroke="#8a8a8a" stroke-width="1"/>
<rect x="2191.0" y="2708.5" width="65.9" height="32" fill="#C1232B" stroke="#8a8a8a" stroke-width="1"/>
<text x="1663.5" y="2776" text-anchor="middle" class="cb">0.1</text>
<text x="1729.4" y="2776" text-anchor="middle" class="cb">0.2</text>
<text x="1795.4" y="2776" text-anchor="middle" class="cb">0.3</text>
<text x="1861.3" y="2776" text-anchor="middle" class="cb">0.4</text>
<text x="1927.3" y="2776" text-anchor="middle" class="cb">0.5</text>
<text x="1993.2" y="2776" text-anchor="middle" class="cb">0.6</text>
<text x="2059.1" y="2776" text-anchor="middle" class="cb">0.7</text>
<text x="2125.1" y="2776" text-anchor="middle" class="cb">0.8</text>
<text x="2191.0" y="2776" text-anchor="middle" class="cb">0.9</text>
<text x="2257.0" y="2776" text-anchor="middle" class="cb">1</text>
</g>
</svg>
<div class="t1"><span class="c">晚霞光照强度</span><span class="d">_2025-04-19</span></div>
<div class="t2" style="top:2617px"><span class="c">制作时间：</span><span class="d">2025-04-19 12:00</span></div>
<div class="t2" style="top:2697px"><span class="c">数据批次：</span><span class="d">2025041900UTC</span></div>
</body></html>
